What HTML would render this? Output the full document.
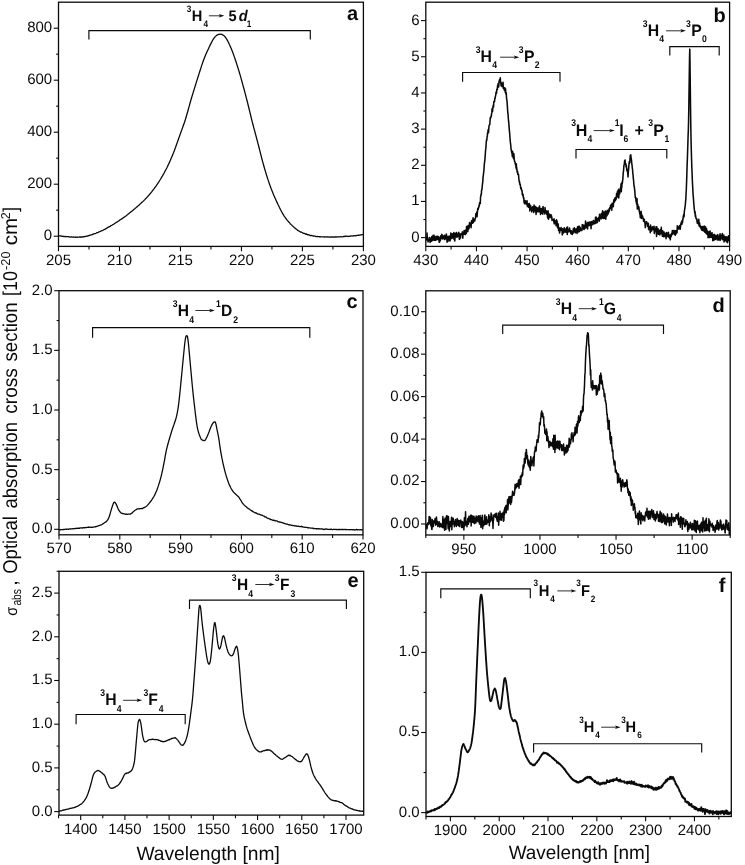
<!DOCTYPE html>
<html lang="en">
<head>
<meta charset="utf-8">
<title>Optical absorption cross section spectra</title>
<style>
html,body{margin:0;padding:0;background:#fff;}
body{width:745px;height:865px;overflow:hidden;font-family:"Liberation Sans", sans-serif;}
svg text{font-family:"Liberation Sans", sans-serif;text-rendering:geometricPrecision;}
</style>
</head>
<body>
<svg width="745" height="865" viewBox="0 0 745 865" font-family='"Liberation Sans", sans-serif' fill="#0a0a0a" style="display:block;will-change:transform">
<rect x="0" y="0" width="745" height="865" fill="#fff"/>
<g id="panel-a">
<clipPath id="clip-a"><rect x="58.5" y="2.2" width="304.9" height="244.2"/></clipPath>
<path clip-path="url(#clip-a)" d="M58.50,235.80 L59.00,235.92 L59.50,235.90 L60.00,235.87 L60.50,235.99 L61.00,235.98 L61.50,236.19 L62.00,236.44 L62.50,236.22 L63.00,236.26 L63.50,236.48 L64.00,236.51 L64.50,236.53 L65.00,236.43 L65.50,236.61 L66.00,236.77 L66.50,236.51 L67.00,236.69 L67.50,236.52 L68.00,236.66 L68.50,236.62 L69.00,236.90 L69.50,236.79 L70.00,237.07 L70.50,237.09 L71.00,237.07 L71.50,236.75 L72.00,237.07 L72.50,237.16 L73.00,237.20 L73.50,236.96 L74.00,237.13 L74.50,237.06 L75.00,237.08 L75.50,237.36 L76.00,237.07 L76.50,237.18 L77.00,237.30 L77.50,237.07 L78.00,237.12 L78.50,237.14 L79.00,237.11 L79.50,236.89 L80.00,237.06 L80.50,237.23 L81.00,236.76 L81.50,237.09 L82.00,236.94 L82.50,236.77 L83.00,237.11 L83.50,236.86 L84.00,236.50 L84.50,236.61 L85.00,236.60 L85.50,236.39 L86.00,236.42 L86.50,236.20 L87.00,236.19 L87.50,236.18 L88.00,235.75 L88.50,235.74 L89.00,235.51 L89.50,235.45 L90.00,235.11 L90.50,235.04 L91.00,234.94 L91.50,234.93 L92.00,234.80 L92.50,234.28 L93.00,234.18 L93.50,234.20 L94.00,233.66 L94.50,233.68 L95.00,233.54 L95.50,233.53 L96.00,233.26 L96.50,232.92 L97.00,232.72 L97.50,232.54 L98.00,232.57 L98.50,232.10 L99.00,231.91 L99.50,231.79 L100.00,231.51 L100.50,231.29 L101.00,230.94 L101.50,230.86 L102.00,230.58 L102.50,230.55 L103.00,230.25 L103.50,229.91 L104.00,229.75 L104.50,229.37 L105.00,229.29 L105.50,228.89 L106.00,228.69 L106.50,228.18 L107.00,228.11 L107.50,227.58 L108.00,227.25 L108.50,227.18 L109.00,226.82 L109.50,226.66 L110.00,226.61 L110.50,225.94 L111.00,225.67 L111.50,225.47 L112.00,225.20 L112.50,224.81 L113.00,224.50 L113.50,224.30 L114.00,223.96 L114.50,223.47 L115.00,223.26 L115.50,222.96 L116.00,222.52 L116.50,222.35 L117.00,221.90 L117.50,221.79 L118.00,221.38 L118.50,221.04 L119.00,220.64 L119.50,220.36 L120.00,219.82 L120.50,219.58 L121.00,219.41 L121.50,218.79 L122.00,218.79 L122.50,218.15 L123.00,218.08 L123.50,217.55 L124.00,217.37 L124.50,216.94 L125.00,216.40 L125.50,216.33 L126.00,215.97 L126.50,215.43 L127.00,215.03 L127.50,214.65 L128.00,214.17 L128.50,213.99 L129.00,213.42 L129.50,213.07 L130.00,212.59 L130.50,212.20 L131.00,211.73 L131.50,211.58 L132.00,211.02 L132.50,210.72 L133.00,210.21 L133.50,209.73 L134.00,209.35 L134.50,208.91 L135.00,208.55 L135.50,208.09 L136.00,207.67 L136.50,207.13 L137.00,206.75 L137.50,206.55 L138.00,205.89 L138.50,205.40 L139.00,205.09 L139.50,204.74 L140.00,204.01 L140.50,203.67 L141.00,203.17 L141.50,202.60 L142.00,202.37 L142.50,201.83 L143.00,201.37 L143.50,200.82 L144.00,200.45 L144.50,199.87 L145.00,199.41 L145.50,198.81 L146.00,198.28 L146.50,197.96 L147.00,197.26 L147.50,196.77 L148.00,196.17 L148.50,195.57 L149.00,194.98 L149.50,194.48 L150.00,193.81 L150.50,193.21 L151.00,192.61 L151.50,192.08 L152.00,191.42 L152.50,190.77 L153.00,190.07 L153.50,189.38 L154.00,188.89 L154.50,188.22 L155.00,187.47 L155.50,186.81 L156.00,186.12 L156.50,185.39 L157.00,184.66 L157.50,183.83 L158.00,183.18 L158.50,182.25 L159.00,181.59 L159.50,180.78 L160.00,180.00 L160.50,179.24 L161.00,178.40 L161.50,177.44 L162.00,176.58 L162.50,175.86 L163.00,174.91 L163.50,174.08 L164.00,173.23 L164.50,172.21 L165.00,171.27 L165.50,170.43 L166.00,169.46 L166.50,168.47 L167.00,167.49 L167.50,166.44 L168.00,165.38 L168.50,164.37 L169.00,163.27 L169.50,162.14 L170.00,161.10 L170.50,159.95 L171.00,158.81 L171.50,157.60 L172.00,156.42 L172.50,155.21 L173.00,153.98 L173.50,152.76 L174.00,151.45 L174.50,150.18 L175.00,148.85 L175.50,147.53 L176.00,146.07 L176.50,144.72 L177.00,143.28 L177.50,141.87 L178.00,140.42 L178.50,139.03 L179.00,137.64 L179.50,136.21 L180.00,134.80 L180.50,133.40 L181.00,132.05 L181.50,130.64 L182.00,129.21 L182.50,127.87 L183.00,126.45 L183.50,125.02 L184.00,123.66 L184.50,122.25 L185.00,120.70 L185.50,119.09 L186.00,117.45 L186.50,115.79 L187.00,114.05 L187.50,112.28 L188.00,110.50 L188.50,108.70 L189.00,106.90 L189.50,105.09 L190.00,103.29 L190.50,101.49 L191.00,99.76 L191.50,98.02 L192.00,96.38 L192.50,94.70 L193.00,93.09 L193.50,91.47 L194.00,89.83 L194.50,88.26 L195.00,86.65 L195.50,85.00 L196.00,83.42 L196.50,81.81 L197.00,80.16 L197.50,78.62 L198.00,77.02 L198.50,75.44 L199.00,73.83 L199.50,72.27 L200.00,70.71 L200.50,69.19 L201.00,67.64 L201.50,66.11 L202.00,64.65 L202.50,63.14 L203.00,61.70 L203.50,60.26 L204.00,58.98 L204.50,57.67 L205.00,56.43 L205.50,55.23 L206.00,54.06 L206.50,52.94 L207.00,51.82 L207.50,50.73 L208.00,49.66 L208.50,48.62 L209.00,47.50 L209.50,46.42 L210.00,45.36 L210.50,44.33 L211.00,43.43 L211.50,42.41 L212.00,41.45 L212.50,40.51 L213.00,39.59 L213.50,38.80 L214.00,38.13 L214.50,37.40 L215.00,36.84 L215.50,36.34 L216.00,35.93 L216.50,35.35 L217.00,35.15 L217.50,34.78 L218.00,34.78 L218.50,34.37 L219.00,34.42 L219.50,34.47 L220.00,34.15 L220.50,34.09 L221.00,34.25 L221.50,34.31 L222.00,34.33 L222.50,34.74 L223.00,35.19 L223.50,35.27 L224.00,35.69 L224.50,36.12 L225.00,36.79 L225.50,37.32 L226.00,38.03 L226.50,38.93 L227.00,39.64 L227.50,40.61 L228.00,41.57 L228.50,42.51 L229.00,43.57 L229.50,44.71 L230.00,45.76 L230.50,46.89 L231.00,48.05 L231.50,49.29 L232.00,50.57 L232.50,51.84 L233.00,53.11 L233.50,54.48 L234.00,55.90 L234.50,57.37 L235.00,58.82 L235.50,60.31 L236.00,61.81 L236.50,63.32 L237.00,64.86 L237.50,66.43 L238.00,68.01 L238.50,69.64 L239.00,71.30 L239.50,72.96 L240.00,74.66 L240.50,76.37 L241.00,78.17 L241.50,79.92 L242.00,81.72 L242.50,83.56 L243.00,85.38 L243.50,87.21 L244.00,89.03 L244.50,90.92 L245.00,92.80 L245.50,94.71 L246.00,96.65 L246.50,98.55 L247.00,100.49 L247.50,102.46 L248.00,104.48 L248.50,106.50 L249.00,108.53 L249.50,110.59 L250.00,112.63 L250.50,114.71 L251.00,116.76 L251.50,118.79 L252.00,120.79 L252.50,122.80 L253.00,124.75 L253.50,126.68 L254.00,128.57 L254.50,130.43 L255.00,132.29 L255.50,134.17 L256.00,136.00 L256.50,137.87 L257.00,139.76 L257.50,141.62 L258.00,143.56 L258.50,145.52 L259.00,147.49 L259.50,149.45 L260.00,151.44 L260.50,153.40 L261.00,155.34 L261.50,157.29 L262.00,159.23 L262.50,161.12 L263.00,162.93 L263.50,164.79 L264.00,166.55 L264.50,168.31 L265.00,169.99 L265.50,171.66 L266.00,173.30 L266.50,174.98 L267.00,176.53 L267.50,178.13 L268.00,179.63 L268.50,181.16 L269.00,182.60 L269.50,184.07 L270.00,185.51 L270.50,186.84 L271.00,188.25 L271.50,189.54 L272.00,190.79 L272.50,192.05 L273.00,193.27 L273.50,194.48 L274.00,195.64 L274.50,196.79 L275.00,197.95 L275.50,199.06 L276.00,200.16 L276.50,201.30 L277.00,202.41 L277.50,203.39 L278.00,204.49 L278.50,205.50 L279.00,206.52 L279.50,207.60 L280.00,208.55 L280.50,209.62 L281.00,210.49 L281.50,211.48 L282.00,212.37 L282.50,213.24 L283.00,214.16 L283.50,214.96 L284.00,215.80 L284.50,216.53 L285.00,217.21 L285.50,217.98 L286.00,218.68 L286.50,219.41 L287.00,219.92 L287.50,220.60 L288.00,221.07 L288.50,221.83 L289.00,222.25 L289.50,222.73 L290.00,223.41 L290.50,224.04 L291.00,224.33 L291.50,224.88 L292.00,225.40 L292.50,225.84 L293.00,226.45 L293.50,226.79 L294.00,227.23 L294.50,227.78 L295.00,228.07 L295.50,228.60 L296.00,228.85 L296.50,229.22 L297.00,229.52 L297.50,230.29 L298.00,230.39 L298.50,230.79 L299.00,231.06 L299.50,231.38 L300.00,231.64 L300.50,232.14 L301.00,232.01 L301.50,232.19 L302.00,232.49 L302.50,232.67 L303.00,233.15 L303.50,233.37 L304.00,233.32 L304.50,233.44 L305.00,233.75 L305.50,234.17 L306.00,233.75 L306.50,234.38 L307.00,234.32 L307.50,234.77 L308.00,234.63 L308.50,234.88 L309.00,234.85 L309.50,235.05 L310.00,235.52 L310.50,235.55 L311.00,235.48 L311.50,235.51 L312.00,235.46 L312.50,235.77 L313.00,235.91 L313.50,235.99 L314.00,236.07 L314.50,236.00 L315.00,236.23 L315.50,236.30 L316.00,236.57 L316.50,236.72 L317.00,236.49 L317.50,236.45 L318.00,236.61 L318.50,236.58 L319.00,236.61 L319.50,236.75 L320.00,236.64 L320.50,236.92 L321.00,236.84 L321.50,236.92 L322.00,236.88 L322.50,236.81 L323.00,236.80 L323.50,236.92 L324.00,236.89 L324.50,237.02 L325.00,237.00 L325.50,236.81 L326.00,237.03 L326.50,236.83 L327.00,236.95 L327.50,237.01 L328.00,236.75 L328.50,237.08 L329.00,237.09 L329.50,237.05 L330.00,237.01 L330.50,237.02 L331.00,236.93 L331.50,237.03 L332.00,236.99 L332.50,237.08 L333.00,236.88 L333.50,237.08 L334.00,237.06 L334.50,237.01 L335.00,236.95 L335.50,237.08 L336.00,236.73 L336.50,237.03 L337.00,236.98 L337.50,236.96 L338.00,236.95 L338.50,236.77 L339.00,236.80 L339.50,236.91 L340.00,236.86 L340.50,236.79 L341.00,236.51 L341.50,236.79 L342.00,236.86 L342.50,236.80 L343.00,236.66 L343.50,236.36 L344.00,236.70 L344.50,236.51 L345.00,236.12 L345.50,236.52 L346.00,236.21 L346.50,236.20 L347.00,236.27 L347.50,236.52 L348.00,236.24 L348.50,236.29 L349.00,236.48 L349.50,236.41 L350.00,236.12 L350.50,236.06 L351.00,235.87 L351.50,235.91 L352.00,236.03 L352.50,235.98 L353.00,235.89 L353.50,235.98 L354.00,235.67 L354.50,235.72 L355.00,235.79 L355.50,235.72 L356.00,235.74 L356.50,235.59 L357.00,235.43 L357.50,235.47 L358.00,235.22 L358.50,235.07 L359.00,235.34 L359.50,235.19 L360.00,235.18 L360.50,234.82 L361.00,234.96 L361.50,234.86 L362.00,234.76 L362.50,234.49 L363.00,234.70" fill="none" stroke="#0a0a0a" stroke-width="1.3" stroke-linejoin="round"/>
<rect x="58.5" y="2.2" width="304.9" height="244.2" fill="none" stroke="#0a0a0a" stroke-width="1.3"/>
<line x1="58.5" y1="246.4" x2="58.5" y2="251.2" stroke="#0a0a0a" stroke-width="1.1"/>
<text x="58.5" y="264.9" font-size="15.0" text-anchor="middle" font-weight="normal" font-style="normal" >205</text>
<line x1="119.48" y1="246.4" x2="119.48" y2="251.2" stroke="#0a0a0a" stroke-width="1.1"/>
<text x="119.48" y="264.9" font-size="15.0" text-anchor="middle" font-weight="normal" font-style="normal" >210</text>
<line x1="180.46" y1="246.4" x2="180.46" y2="251.2" stroke="#0a0a0a" stroke-width="1.1"/>
<text x="180.46" y="264.9" font-size="15.0" text-anchor="middle" font-weight="normal" font-style="normal" >215</text>
<line x1="241.44" y1="246.4" x2="241.44" y2="251.2" stroke="#0a0a0a" stroke-width="1.1"/>
<text x="241.44" y="264.9" font-size="15.0" text-anchor="middle" font-weight="normal" font-style="normal" >220</text>
<line x1="302.42" y1="246.4" x2="302.42" y2="251.2" stroke="#0a0a0a" stroke-width="1.1"/>
<text x="302.42" y="264.9" font-size="15.0" text-anchor="middle" font-weight="normal" font-style="normal" >225</text>
<line x1="363.4" y1="246.4" x2="363.4" y2="251.2" stroke="#0a0a0a" stroke-width="1.1"/>
<text x="363.4" y="264.9" font-size="15.0" text-anchor="middle" font-weight="normal" font-style="normal" >230</text>
<line x1="88.99" y1="246.4" x2="88.99" y2="249.5" stroke="#0a0a0a" stroke-width="1.1"/>
<line x1="149.97" y1="246.4" x2="149.97" y2="249.5" stroke="#0a0a0a" stroke-width="1.1"/>
<line x1="210.95" y1="246.4" x2="210.95" y2="249.5" stroke="#0a0a0a" stroke-width="1.1"/>
<line x1="271.93" y1="246.4" x2="271.93" y2="249.5" stroke="#0a0a0a" stroke-width="1.1"/>
<line x1="332.91" y1="246.4" x2="332.91" y2="249.5" stroke="#0a0a0a" stroke-width="1.1"/>
<line x1="53.7" y1="236.2" x2="58.5" y2="236.2" stroke="#0a0a0a" stroke-width="1.1"/>
<text x="52.2" y="240.1" font-size="15.0" text-anchor="end" font-weight="normal" font-style="normal" >0</text>
<line x1="53.7" y1="184.2" x2="58.5" y2="184.2" stroke="#0a0a0a" stroke-width="1.1"/>
<text x="52.2" y="188.1" font-size="15.0" text-anchor="end" font-weight="normal" font-style="normal" >200</text>
<line x1="53.7" y1="132.2" x2="58.5" y2="132.2" stroke="#0a0a0a" stroke-width="1.1"/>
<text x="52.2" y="136.1" font-size="15.0" text-anchor="end" font-weight="normal" font-style="normal" >400</text>
<line x1="53.7" y1="80.2" x2="58.5" y2="80.2" stroke="#0a0a0a" stroke-width="1.1"/>
<text x="52.2" y="84.1" font-size="15.0" text-anchor="end" font-weight="normal" font-style="normal" >600</text>
<line x1="53.7" y1="28.2" x2="58.5" y2="28.2" stroke="#0a0a0a" stroke-width="1.1"/>
<text x="52.2" y="32.1" font-size="15.0" text-anchor="end" font-weight="normal" font-style="normal" >800</text>
<line x1="56.1" y1="210.2" x2="58.5" y2="210.2" stroke="#0a0a0a" stroke-width="1.1"/>
<line x1="56.1" y1="158.2" x2="58.5" y2="158.2" stroke="#0a0a0a" stroke-width="1.1"/>
<line x1="56.1" y1="106.2" x2="58.5" y2="106.2" stroke="#0a0a0a" stroke-width="1.1"/>
<line x1="56.1" y1="54.2" x2="58.5" y2="54.2" stroke="#0a0a0a" stroke-width="1.1"/>
</g>
<g id="panel-b">
<clipPath id="clip-b"><rect x="425.8" y="2.2" width="303.8" height="244.2"/></clipPath>
<path clip-path="url(#clip-b)" d="M425.80,240.39 L426.05,239.36 L426.30,237.39 L426.55,238.55 L426.80,240.09 L427.05,233.05 L427.30,238.31 L427.55,239.64 L427.80,239.91 L428.05,241.94 L428.30,240.80 L428.55,239.15 L428.80,239.12 L429.05,240.08 L429.30,237.42 L429.55,238.40 L429.80,240.29 L430.05,242.38 L430.30,238.13 L430.55,238.35 L430.80,238.83 L431.05,241.11 L431.30,238.35 L431.55,241.33 L431.80,236.45 L432.05,238.00 L432.30,237.96 L432.55,239.92 L432.80,240.42 L433.05,235.30 L433.30,236.47 L433.55,238.96 L433.80,236.96 L434.05,235.21 L434.30,240.32 L434.55,239.22 L434.80,239.20 L435.05,237.25 L435.30,240.24 L435.55,237.68 L435.80,240.34 L436.05,236.30 L436.30,236.40 L436.55,238.50 L436.80,236.66 L437.05,239.40 L437.30,238.55 L437.55,236.16 L437.80,238.13 L438.05,237.26 L438.30,239.77 L438.55,236.65 L438.80,237.01 L439.05,240.29 L439.30,242.32 L439.55,241.81 L439.80,237.92 L440.05,238.20 L440.30,240.81 L440.55,237.47 L440.80,235.74 L441.05,237.90 L441.30,238.55 L441.55,235.96 L441.80,234.30 L442.05,234.70 L442.30,238.87 L442.55,236.00 L442.80,237.21 L443.05,237.90 L443.30,238.69 L443.55,236.76 L443.80,238.40 L444.05,235.60 L444.30,236.64 L444.55,235.29 L444.80,239.58 L445.05,237.24 L445.30,235.80 L445.55,236.56 L445.80,236.80 L446.05,238.63 L446.30,234.03 L446.55,235.14 L446.80,236.45 L447.05,242.26 L447.30,239.10 L447.55,236.96 L447.80,238.61 L448.05,241.29 L448.30,236.71 L448.55,236.44 L448.80,239.60 L449.05,238.16 L449.30,238.51 L449.55,236.15 L449.80,241.02 L450.05,240.59 L450.30,238.30 L450.55,238.54 L450.80,233.11 L451.05,238.44 L451.30,236.77 L451.55,238.02 L451.80,238.51 L452.05,236.46 L452.30,233.75 L452.55,237.86 L452.80,235.63 L453.05,236.44 L453.30,235.88 L453.55,236.39 L453.80,232.43 L454.05,239.45 L454.30,237.49 L454.55,239.17 L454.80,240.87 L455.05,236.91 L455.30,233.21 L455.55,234.97 L455.80,234.29 L456.05,235.64 L456.30,236.74 L456.55,232.51 L456.80,237.12 L457.05,233.35 L457.30,236.88 L457.55,235.98 L457.80,235.49 L458.05,235.88 L458.30,234.86 L458.55,234.62 L458.80,232.38 L459.05,235.58 L459.30,239.22 L459.55,239.38 L459.80,237.95 L460.05,236.61 L460.30,233.74 L460.55,237.85 L460.80,234.74 L461.05,234.59 L461.30,234.02 L461.55,234.64 L461.80,233.45 L462.05,234.00 L462.30,231.85 L462.55,233.09 L462.80,238.19 L463.05,233.34 L463.30,232.81 L463.55,234.14 L463.80,234.29 L464.05,230.47 L464.30,232.05 L464.55,234.05 L464.80,232.54 L465.05,232.02 L465.30,234.60 L465.55,229.95 L465.80,231.20 L466.05,229.76 L466.30,233.45 L466.55,226.42 L466.80,228.67 L467.05,228.68 L467.30,230.74 L467.55,230.35 L467.80,231.60 L468.05,225.49 L468.30,229.74 L468.55,227.39 L468.80,226.35 L469.05,228.37 L469.30,225.20 L469.55,222.62 L469.80,225.60 L470.05,223.06 L470.30,224.37 L470.55,226.00 L470.80,225.53 L471.05,227.64 L471.30,223.81 L471.55,220.87 L471.80,222.01 L472.05,221.33 L472.30,220.39 L472.55,223.22 L472.80,220.75 L473.05,217.80 L473.30,222.55 L473.55,220.58 L473.80,221.06 L474.05,220.14 L474.30,220.70 L474.55,219.11 L474.80,220.92 L475.05,218.91 L475.30,218.36 L475.55,217.90 L475.80,213.88 L476.05,215.81 L476.30,215.12 L476.55,215.45 L476.80,211.99 L477.05,216.65 L477.30,213.16 L477.55,210.08 L477.80,208.38 L478.05,209.85 L478.30,209.19 L478.55,207.16 L478.80,207.45 L479.05,205.22 L479.30,205.92 L479.55,202.78 L479.80,202.52 L480.05,202.64 L480.30,203.45 L480.55,197.00 L480.80,196.26 L481.05,194.23 L481.30,194.79 L481.55,190.65 L481.80,189.81 L482.05,188.54 L482.30,185.49 L482.55,183.41 L482.80,181.55 L483.05,177.41 L483.30,175.37 L483.55,173.62 L483.80,171.38 L484.05,168.28 L484.30,164.01 L484.55,162.41 L484.80,160.70 L485.05,157.57 L485.30,154.07 L485.55,150.42 L485.80,148.92 L486.05,145.00 L486.30,141.75 L486.55,139.72 L486.80,140.21 L487.05,136.96 L487.30,136.61 L487.55,132.92 L487.80,133.67 L488.05,130.13 L488.30,129.59 L488.55,132.45 L488.80,128.65 L489.05,125.54 L489.30,125.01 L489.55,124.44 L489.80,124.53 L490.05,120.74 L490.30,117.63 L490.55,118.37 L490.80,117.38 L491.05,116.08 L491.30,116.36 L491.55,113.55 L491.80,112.91 L492.05,108.80 L492.30,110.54 L492.55,111.39 L492.80,108.26 L493.05,106.41 L493.30,105.25 L493.55,106.96 L493.80,101.52 L494.05,101.90 L494.30,101.87 L494.55,101.34 L494.80,98.41 L495.05,98.57 L495.30,96.58 L495.55,96.17 L495.80,94.72 L496.05,92.05 L496.30,92.79 L496.55,93.18 L496.80,89.17 L497.05,89.28 L497.30,89.68 L497.55,85.86 L497.80,86.78 L498.05,83.73 L498.30,86.15 L498.55,87.02 L498.80,85.60 L499.05,80.96 L499.30,81.71 L499.55,79.87 L499.80,79.38 L500.05,82.33 L500.30,77.82 L500.55,82.77 L500.80,82.13 L501.05,85.62 L501.30,84.36 L501.55,83.11 L501.80,85.30 L502.05,86.52 L502.30,85.48 L502.55,86.68 L502.80,85.03 L503.05,82.21 L503.30,88.45 L503.55,88.40 L503.80,87.69 L504.05,87.92 L504.30,90.19 L504.55,87.81 L504.80,87.86 L505.05,89.39 L505.30,92.51 L505.55,88.67 L505.80,93.88 L506.05,92.52 L506.30,93.76 L506.55,98.49 L506.80,99.53 L507.05,101.34 L507.30,105.20 L507.55,109.35 L507.80,112.60 L508.05,114.19 L508.30,117.94 L508.55,121.22 L508.80,123.05 L509.05,126.94 L509.30,129.62 L509.55,132.19 L509.80,135.24 L510.05,138.75 L510.30,141.69 L510.55,143.61 L510.80,145.76 L511.05,149.46 L511.30,149.58 L511.55,151.77 L511.80,153.23 L512.05,152.82 L512.30,156.54 L512.55,151.25 L512.80,154.83 L513.05,153.39 L513.30,157.89 L513.55,158.47 L513.80,153.64 L514.05,156.26 L514.30,159.93 L514.55,161.18 L514.80,162.14 L515.05,161.89 L515.30,163.79 L515.55,165.15 L515.80,165.04 L516.05,167.86 L516.30,163.68 L516.55,169.36 L516.80,167.79 L517.05,172.03 L517.30,171.26 L517.55,171.33 L517.80,174.42 L518.05,173.53 L518.30,174.65 L518.55,174.74 L518.80,178.27 L519.05,180.21 L519.30,182.15 L519.55,181.44 L519.80,184.41 L520.05,183.88 L520.30,184.78 L520.55,186.91 L520.80,188.74 L521.05,187.51 L521.30,188.68 L521.55,189.82 L521.80,191.20 L522.05,190.56 L522.30,194.70 L522.55,193.29 L522.80,195.66 L523.05,194.43 L523.30,197.33 L523.55,198.25 L523.80,197.65 L524.05,202.73 L524.30,200.53 L524.55,203.77 L524.80,202.93 L525.05,200.53 L525.30,201.59 L525.55,203.64 L525.80,203.40 L526.05,203.80 L526.30,203.55 L526.55,200.96 L526.80,204.39 L527.05,200.85 L527.30,206.23 L527.55,204.40 L527.80,204.72 L528.05,205.98 L528.30,207.22 L528.55,204.11 L528.80,203.71 L529.05,205.26 L529.30,203.51 L529.55,205.81 L529.80,211.04 L530.05,205.88 L530.30,209.37 L530.55,205.40 L530.80,208.80 L531.05,207.62 L531.30,208.21 L531.55,209.53 L531.80,211.96 L532.05,208.90 L532.30,208.83 L532.55,206.70 L532.80,209.87 L533.05,208.27 L533.30,210.49 L533.55,208.80 L533.80,212.43 L534.05,205.05 L534.30,208.49 L534.55,210.90 L534.80,208.50 L535.05,207.68 L535.30,208.80 L535.55,206.63 L535.80,209.69 L536.05,214.39 L536.30,211.86 L536.55,207.42 L536.80,207.95 L537.05,208.95 L537.30,211.83 L537.55,208.24 L537.80,208.57 L538.05,211.78 L538.30,211.80 L538.55,209.38 L538.80,207.96 L539.05,207.16 L539.30,208.92 L539.55,205.92 L539.80,211.94 L540.05,209.24 L540.30,211.52 L540.55,214.36 L540.80,213.03 L541.05,208.44 L541.30,212.54 L541.55,213.18 L541.80,209.44 L542.05,209.09 L542.30,210.83 L542.55,207.91 L542.80,214.11 L543.05,206.43 L543.30,209.09 L543.55,210.83 L543.80,210.98 L544.05,211.84 L544.30,212.13 L544.55,211.25 L544.80,214.04 L545.05,207.60 L545.30,211.98 L545.55,210.67 L545.80,212.48 L546.05,212.78 L546.30,210.67 L546.55,211.36 L546.80,214.36 L547.05,213.65 L547.30,211.78 L547.55,217.36 L547.80,218.09 L548.05,210.83 L548.30,214.54 L548.55,219.13 L548.80,215.96 L549.05,215.11 L549.30,214.53 L549.55,214.16 L549.80,215.10 L550.05,214.74 L550.30,217.58 L550.55,215.65 L550.80,215.87 L551.05,214.70 L551.30,217.27 L551.55,215.93 L551.80,217.65 L552.05,220.35 L552.30,219.35 L552.55,219.95 L552.80,219.98 L553.05,219.73 L553.30,219.69 L553.55,219.66 L553.80,222.07 L554.05,218.80 L554.30,223.85 L554.55,221.63 L554.80,220.43 L555.05,221.27 L555.30,221.24 L555.55,223.21 L555.80,221.84 L556.05,225.80 L556.30,222.40 L556.55,219.84 L556.80,223.18 L557.05,221.04 L557.30,225.21 L557.55,227.69 L557.80,227.23 L558.05,223.70 L558.30,225.15 L558.55,230.44 L558.80,227.92 L559.05,227.62 L559.30,229.99 L559.55,233.04 L559.80,231.08 L560.05,229.09 L560.30,229.76 L560.55,230.51 L560.80,228.29 L561.05,227.60 L561.30,229.98 L561.55,228.15 L561.80,230.05 L562.05,230.49 L562.30,235.08 L562.55,228.81 L562.80,230.36 L563.05,230.35 L563.30,231.62 L563.55,232.90 L563.80,229.88 L564.05,229.26 L564.30,227.67 L564.55,229.13 L564.80,232.09 L565.05,231.14 L565.30,229.04 L565.55,230.36 L565.80,231.20 L566.05,232.17 L566.30,230.01 L566.55,230.74 L566.80,227.64 L567.05,229.01 L567.30,234.59 L567.55,227.02 L567.80,230.76 L568.05,231.91 L568.30,230.77 L568.55,229.94 L568.80,231.47 L569.05,231.61 L569.30,231.49 L569.55,227.93 L569.80,231.42 L570.05,230.02 L570.30,230.65 L570.55,232.22 L570.80,233.06 L571.05,233.57 L571.30,230.78 L571.55,233.62 L571.80,234.10 L572.05,234.01 L572.30,234.49 L572.55,231.38 L572.80,231.29 L573.05,233.23 L573.30,228.80 L573.55,231.88 L573.80,230.32 L574.05,230.56 L574.30,227.73 L574.55,229.32 L574.80,230.95 L575.05,232.66 L575.30,232.76 L575.55,230.52 L575.80,230.20 L576.05,228.81 L576.30,231.16 L576.55,229.76 L576.80,231.35 L577.05,233.53 L577.30,229.86 L577.55,226.83 L577.80,227.98 L578.05,226.68 L578.30,227.09 L578.55,231.96 L578.80,229.69 L579.05,226.09 L579.30,230.31 L579.55,231.40 L579.80,228.05 L580.05,227.31 L580.30,227.86 L580.55,228.98 L580.80,229.57 L581.05,230.52 L581.30,230.46 L581.55,230.29 L581.80,230.51 L582.05,228.99 L582.30,224.50 L582.55,227.16 L582.80,227.93 L583.05,226.41 L583.30,228.87 L583.55,226.21 L583.80,224.97 L584.05,229.57 L584.30,227.90 L584.55,226.88 L584.80,228.17 L585.05,228.32 L585.30,226.76 L585.55,221.07 L585.80,224.50 L586.05,224.81 L586.30,223.64 L586.55,225.87 L586.80,227.73 L587.05,224.26 L587.30,222.84 L587.55,229.01 L587.80,223.94 L588.05,222.26 L588.30,225.05 L588.55,225.30 L588.80,222.91 L589.05,225.75 L589.30,223.07 L589.55,222.06 L589.80,224.11 L590.05,225.14 L590.30,222.20 L590.55,223.97 L590.80,222.97 L591.05,228.63 L591.30,221.45 L591.55,225.46 L591.80,222.45 L592.05,222.15 L592.30,223.68 L592.55,223.87 L592.80,224.46 L593.05,222.44 L593.30,220.44 L593.55,220.41 L593.80,222.34 L594.05,222.33 L594.30,223.80 L594.55,221.69 L594.80,222.81 L595.05,223.57 L595.30,220.72 L595.55,217.29 L595.80,217.74 L596.05,217.07 L596.30,222.94 L596.55,217.93 L596.80,221.91 L597.05,220.47 L597.30,222.56 L597.55,220.99 L597.80,218.64 L598.05,218.29 L598.30,218.70 L598.55,218.72 L598.80,217.16 L599.05,217.99 L599.30,221.10 L599.55,214.36 L599.80,218.10 L600.05,215.63 L600.30,217.65 L600.55,218.79 L600.80,216.85 L601.05,218.34 L601.30,213.49 L601.55,218.70 L601.80,215.14 L602.05,217.42 L602.30,216.39 L602.55,210.73 L602.80,214.21 L603.05,215.99 L603.30,218.49 L603.55,215.81 L603.80,215.60 L604.05,212.12 L604.30,217.62 L604.55,218.21 L604.80,214.52 L605.05,213.87 L605.30,210.93 L605.55,215.74 L605.80,219.20 L606.05,215.09 L606.30,216.01 L606.55,214.41 L606.80,211.21 L607.05,215.66 L607.30,210.38 L607.55,212.24 L607.80,213.04 L608.05,214.06 L608.30,212.95 L608.55,212.67 L608.80,210.15 L609.05,208.82 L609.30,211.12 L609.55,209.26 L609.80,207.72 L610.05,207.39 L610.30,208.44 L610.55,205.40 L610.80,205.89 L611.05,204.87 L611.30,207.81 L611.55,207.75 L611.80,210.28 L612.05,203.16 L612.30,204.22 L612.55,206.74 L612.80,204.12 L613.05,203.41 L613.30,206.75 L613.55,202.39 L613.80,200.34 L614.05,199.53 L614.30,202.14 L614.55,201.57 L614.80,197.91 L615.05,198.13 L615.30,200.49 L615.55,200.07 L615.80,197.27 L616.05,199.17 L616.30,198.59 L616.55,193.64 L616.80,195.98 L617.05,196.91 L617.30,194.58 L617.55,191.15 L617.80,194.26 L618.05,195.82 L618.30,196.97 L618.55,189.32 L618.80,198.07 L619.05,190.48 L619.30,194.01 L619.55,194.07 L619.80,193.10 L620.05,191.01 L620.30,188.02 L620.55,190.67 L620.80,187.56 L621.05,183.71 L621.30,191.69 L621.55,187.11 L621.80,187.43 L622.05,182.14 L622.30,183.35 L622.55,181.46 L622.80,179.33 L623.05,175.48 L623.30,172.10 L623.55,171.03 L623.80,166.61 L624.05,164.89 L624.30,164.70 L624.55,161.33 L624.80,160.57 L625.05,159.98 L625.30,164.14 L625.55,164.31 L625.80,163.70 L626.05,166.86 L626.30,165.34 L626.55,167.34 L626.80,170.52 L627.05,168.96 L627.30,171.68 L627.55,171.24 L627.80,174.52 L628.05,176.97 L628.30,171.72 L628.55,170.31 L628.80,166.47 L629.05,163.69 L629.30,161.65 L629.55,163.15 L629.80,162.56 L630.05,158.53 L630.30,155.32 L630.55,156.58 L630.80,154.75 L631.05,157.60 L631.30,158.73 L631.55,161.01 L631.80,163.79 L632.05,165.21 L632.30,168.03 L632.55,169.44 L632.80,173.27 L633.05,174.79 L633.30,178.48 L633.55,180.06 L633.80,183.52 L634.05,186.20 L634.30,186.38 L634.55,189.09 L634.80,190.81 L635.05,194.67 L635.30,197.62 L635.55,198.02 L635.80,197.68 L636.05,201.67 L636.30,198.23 L636.55,204.09 L636.80,201.57 L637.05,198.88 L637.30,208.97 L637.55,208.00 L637.80,204.35 L638.05,207.25 L638.30,207.39 L638.55,208.73 L638.80,206.69 L639.05,208.84 L639.30,211.61 L639.55,211.85 L639.80,214.29 L640.05,212.86 L640.30,217.66 L640.55,212.48 L640.80,214.84 L641.05,211.30 L641.30,213.08 L641.55,218.44 L641.80,214.70 L642.05,217.99 L642.30,217.38 L642.55,216.01 L642.80,217.81 L643.05,217.96 L643.30,218.47 L643.55,221.28 L643.80,221.52 L644.05,219.56 L644.30,219.31 L644.55,221.98 L644.80,221.58 L645.05,224.11 L645.30,227.60 L645.55,224.34 L645.80,222.90 L646.05,222.91 L646.30,221.84 L646.55,222.02 L646.80,222.10 L647.05,223.56 L647.30,223.76 L647.55,226.32 L647.80,224.33 L648.05,224.97 L648.30,223.20 L648.55,229.09 L648.80,227.08 L649.05,229.84 L649.30,228.10 L649.55,229.68 L649.80,226.44 L650.05,228.55 L650.30,232.69 L650.55,225.07 L650.80,230.01 L651.05,231.21 L651.30,228.82 L651.55,229.65 L651.80,230.81 L652.05,227.04 L652.30,229.32 L652.55,226.83 L652.80,227.34 L653.05,227.57 L653.30,228.65 L653.55,229.36 L653.80,230.09 L654.05,226.39 L654.30,233.44 L654.55,231.87 L654.80,231.10 L655.05,229.00 L655.30,229.67 L655.55,231.08 L655.80,230.91 L656.05,226.76 L656.30,231.81 L656.55,236.37 L656.80,226.75 L657.05,232.67 L657.30,231.51 L657.55,230.63 L657.80,233.78 L658.05,228.67 L658.30,231.53 L658.55,234.31 L658.80,231.02 L659.05,230.68 L659.30,231.89 L659.55,230.85 L659.80,235.04 L660.05,230.13 L660.30,233.89 L660.55,229.65 L660.80,233.70 L661.05,232.22 L661.30,227.25 L661.55,232.65 L661.80,230.59 L662.05,231.97 L662.30,236.15 L662.55,230.82 L662.80,231.05 L663.05,236.29 L663.30,233.68 L663.55,236.72 L663.80,234.33 L664.05,231.97 L664.30,233.76 L664.55,236.52 L664.80,236.04 L665.05,234.23 L665.30,234.44 L665.55,234.22 L665.80,233.37 L666.05,238.63 L666.30,234.80 L666.55,232.57 L666.80,234.02 L667.05,236.60 L667.30,236.54 L667.55,235.05 L667.80,234.07 L668.05,235.58 L668.30,232.16 L668.55,232.97 L668.80,237.31 L669.05,234.69 L669.30,236.44 L669.55,238.14 L669.80,236.93 L670.05,235.58 L670.30,239.83 L670.55,236.75 L670.80,234.56 L671.05,236.69 L671.30,235.91 L671.55,233.20 L671.80,234.98 L672.05,234.36 L672.30,230.53 L672.55,234.07 L672.80,233.70 L673.05,233.24 L673.30,230.63 L673.55,233.13 L673.80,233.61 L674.05,233.72 L674.30,231.02 L674.55,234.42 L674.80,230.45 L675.05,232.24 L675.30,235.11 L675.55,230.82 L675.80,230.93 L676.05,233.88 L676.30,230.66 L676.55,230.57 L676.80,231.33 L677.05,232.71 L677.30,225.87 L677.55,228.35 L677.80,227.69 L678.05,227.23 L678.30,227.39 L678.55,227.12 L678.80,229.10 L679.05,226.40 L679.30,228.05 L679.55,228.20 L679.80,225.55 L680.05,226.78 L680.30,229.20 L680.55,226.14 L680.80,223.77 L681.05,224.32 L681.30,222.13 L681.55,223.80 L681.80,224.33 L682.05,220.56 L682.30,221.11 L682.55,222.78 L682.80,219.07 L683.05,219.18 L683.30,216.14 L683.55,215.23 L683.80,214.38 L684.05,216.85 L684.30,211.79 L684.55,210.21 L684.80,208.46 L685.05,206.77 L685.30,204.99 L685.55,201.57 L685.80,199.58 L686.05,194.07 L686.30,189.78 L686.55,182.90 L686.80,175.88 L687.05,167.26 L687.30,160.60 L687.55,153.20 L687.80,145.67 L688.05,137.14 L688.30,131.53 L688.55,122.01 L688.80,108.19 L689.05,90.32 L689.30,73.07 L689.55,56.85 L689.80,49.15 L690.05,66.50 L690.30,88.11 L690.55,108.92 L690.80,126.27 L691.05,140.15 L691.30,150.34 L691.55,158.76 L691.80,166.82 L692.05,172.07 L692.30,179.47 L692.55,184.40 L692.80,188.74 L693.05,194.37 L693.30,196.85 L693.55,199.93 L693.80,203.31 L694.05,206.82 L694.30,209.27 L694.55,210.99 L694.80,213.34 L695.05,211.43 L695.30,216.58 L695.55,214.92 L695.80,217.19 L696.05,218.59 L696.30,218.14 L696.55,218.34 L696.80,219.43 L697.05,221.65 L697.30,223.10 L697.55,223.31 L697.80,220.48 L698.05,221.11 L698.30,221.09 L698.55,224.04 L698.80,219.38 L699.05,226.09 L699.30,222.98 L699.55,222.71 L699.80,225.22 L700.05,226.90 L700.30,225.91 L700.55,227.64 L700.80,226.21 L701.05,228.69 L701.30,229.08 L701.55,226.84 L701.80,230.18 L702.05,228.06 L702.30,228.25 L702.55,226.62 L702.80,228.18 L703.05,230.58 L703.30,226.78 L703.55,230.91 L703.80,230.59 L704.05,230.70 L704.30,226.04 L704.55,230.42 L704.80,232.13 L705.05,229.55 L705.30,231.45 L705.55,226.77 L705.80,233.00 L706.05,230.55 L706.30,233.78 L706.55,228.58 L706.80,233.78 L707.05,232.11 L707.30,234.36 L707.55,231.08 L707.80,231.85 L708.05,237.69 L708.30,231.74 L708.55,232.14 L708.80,233.15 L709.05,231.82 L709.30,236.37 L709.55,237.58 L709.80,232.90 L710.05,231.02 L710.30,236.94 L710.55,236.96 L710.80,236.55 L711.05,237.37 L711.30,233.49 L711.55,235.03 L711.80,232.76 L712.05,232.84 L712.30,237.76 L712.55,234.61 L712.80,240.62 L713.05,236.37 L713.30,235.07 L713.55,238.07 L713.80,240.19 L714.05,237.68 L714.30,234.40 L714.55,237.68 L714.80,239.78 L715.05,236.15 L715.30,235.67 L715.55,239.33 L715.80,237.65 L716.05,235.24 L716.30,236.74 L716.55,236.04 L716.80,238.20 L717.05,237.87 L717.30,240.00 L717.55,239.16 L717.80,234.65 L718.05,238.63 L718.30,239.65 L718.55,238.80 L718.80,239.98 L719.05,236.85 L719.30,236.07 L719.55,239.86 L719.80,235.89 L720.05,233.73 L720.30,240.12 L720.55,236.64 L720.80,237.49 L721.05,235.32 L721.30,235.48 L721.55,235.83 L721.80,237.44 L722.05,238.91 L722.30,233.58 L722.55,239.69 L722.80,235.83 L723.05,236.06 L723.30,239.56 L723.55,238.06 L723.80,235.14 L724.05,241.91 L724.30,236.50 L724.55,238.72 L724.80,238.63 L725.05,241.06 L725.30,237.33 L725.55,240.26 L725.80,236.77 L726.05,240.50 L726.30,236.73 L726.55,237.53 L726.80,242.05 L727.05,238.89 L727.30,238.48 L727.55,242.74 L727.80,238.98 L728.05,236.62 L728.30,239.72 L728.55,235.88 L728.80,240.49 L729.05,240.64 L729.30,237.07 L729.55,236.95" fill="none" stroke="#0a0a0a" stroke-width="1.55" stroke-linejoin="round"/>
<rect x="425.8" y="2.2" width="303.8" height="244.2" fill="none" stroke="#0a0a0a" stroke-width="1.3"/>
<line x1="425.8" y1="246.4" x2="425.8" y2="251.2" stroke="#0a0a0a" stroke-width="1.1"/>
<text x="425.8" y="264.9" font-size="15.0" text-anchor="middle" font-weight="normal" font-style="normal" >430</text>
<line x1="476.43" y1="246.4" x2="476.43" y2="251.2" stroke="#0a0a0a" stroke-width="1.1"/>
<text x="476.43" y="264.9" font-size="15.0" text-anchor="middle" font-weight="normal" font-style="normal" >440</text>
<line x1="527.07" y1="246.4" x2="527.07" y2="251.2" stroke="#0a0a0a" stroke-width="1.1"/>
<text x="527.07" y="264.9" font-size="15.0" text-anchor="middle" font-weight="normal" font-style="normal" >450</text>
<line x1="577.7" y1="246.4" x2="577.7" y2="251.2" stroke="#0a0a0a" stroke-width="1.1"/>
<text x="577.7" y="264.9" font-size="15.0" text-anchor="middle" font-weight="normal" font-style="normal" >460</text>
<line x1="628.33" y1="246.4" x2="628.33" y2="251.2" stroke="#0a0a0a" stroke-width="1.1"/>
<text x="628.33" y="264.9" font-size="15.0" text-anchor="middle" font-weight="normal" font-style="normal" >470</text>
<line x1="678.97" y1="246.4" x2="678.97" y2="251.2" stroke="#0a0a0a" stroke-width="1.1"/>
<text x="678.97" y="264.9" font-size="15.0" text-anchor="middle" font-weight="normal" font-style="normal" >480</text>
<line x1="729.6" y1="246.4" x2="729.6" y2="251.2" stroke="#0a0a0a" stroke-width="1.1"/>
<text x="729.6" y="264.9" font-size="15.0" text-anchor="middle" font-weight="normal" font-style="normal" >490</text>
<line x1="451.12" y1="246.4" x2="451.12" y2="249.5" stroke="#0a0a0a" stroke-width="1.1"/>
<line x1="501.75" y1="246.4" x2="501.75" y2="249.5" stroke="#0a0a0a" stroke-width="1.1"/>
<line x1="552.38" y1="246.4" x2="552.38" y2="249.5" stroke="#0a0a0a" stroke-width="1.1"/>
<line x1="603.02" y1="246.4" x2="603.02" y2="249.5" stroke="#0a0a0a" stroke-width="1.1"/>
<line x1="653.65" y1="246.4" x2="653.65" y2="249.5" stroke="#0a0a0a" stroke-width="1.1"/>
<line x1="704.28" y1="246.4" x2="704.28" y2="249.5" stroke="#0a0a0a" stroke-width="1.1"/>
<line x1="421" y1="237.6" x2="425.8" y2="237.6" stroke="#0a0a0a" stroke-width="1.1"/>
<text x="419.5" y="241.5" font-size="15.0" text-anchor="end" font-weight="normal" font-style="normal" >0</text>
<line x1="421" y1="201.43" x2="425.8" y2="201.43" stroke="#0a0a0a" stroke-width="1.1"/>
<text x="419.5" y="205.33" font-size="15.0" text-anchor="end" font-weight="normal" font-style="normal" >1</text>
<line x1="421" y1="165.27" x2="425.8" y2="165.27" stroke="#0a0a0a" stroke-width="1.1"/>
<text x="419.5" y="169.17" font-size="15.0" text-anchor="end" font-weight="normal" font-style="normal" >2</text>
<line x1="421" y1="129.1" x2="425.8" y2="129.1" stroke="#0a0a0a" stroke-width="1.1"/>
<text x="419.5" y="133" font-size="15.0" text-anchor="end" font-weight="normal" font-style="normal" >3</text>
<line x1="421" y1="92.93" x2="425.8" y2="92.93" stroke="#0a0a0a" stroke-width="1.1"/>
<text x="419.5" y="96.83" font-size="15.0" text-anchor="end" font-weight="normal" font-style="normal" >4</text>
<line x1="421" y1="56.77" x2="425.8" y2="56.77" stroke="#0a0a0a" stroke-width="1.1"/>
<text x="419.5" y="60.67" font-size="15.0" text-anchor="end" font-weight="normal" font-style="normal" >5</text>
<line x1="421" y1="20.6" x2="425.8" y2="20.6" stroke="#0a0a0a" stroke-width="1.1"/>
<text x="419.5" y="24.5" font-size="15.0" text-anchor="end" font-weight="normal" font-style="normal" >6</text>
<line x1="423.4" y1="219.52" x2="425.8" y2="219.52" stroke="#0a0a0a" stroke-width="1.1"/>
<line x1="423.4" y1="183.35" x2="425.8" y2="183.35" stroke="#0a0a0a" stroke-width="1.1"/>
<line x1="423.4" y1="147.18" x2="425.8" y2="147.18" stroke="#0a0a0a" stroke-width="1.1"/>
<line x1="423.4" y1="111.02" x2="425.8" y2="111.02" stroke="#0a0a0a" stroke-width="1.1"/>
<line x1="423.4" y1="74.85" x2="425.8" y2="74.85" stroke="#0a0a0a" stroke-width="1.1"/>
<line x1="423.4" y1="38.68" x2="425.8" y2="38.68" stroke="#0a0a0a" stroke-width="1.1"/>
</g>
<g id="panel-c">
<clipPath id="clip-c"><rect x="59" y="290.7" width="304" height="244.1"/></clipPath>
<path clip-path="url(#clip-c)" d="M59.00,530.03 L59.50,529.95 L60.00,529.75 L60.50,529.93 L61.00,529.49 L61.50,529.68 L62.00,529.64 L62.50,529.61 L63.00,529.65 L63.50,529.37 L64.00,529.59 L64.50,529.43 L65.00,529.31 L65.50,529.15 L66.00,529.13 L66.50,529.32 L67.00,529.07 L67.50,529.18 L68.00,529.28 L68.50,529.23 L69.00,529.26 L69.50,528.93 L70.00,528.77 L70.50,529.03 L71.00,528.88 L71.50,528.95 L72.00,528.74 L72.50,528.87 L73.00,528.77 L73.50,528.71 L74.00,528.63 L74.50,528.57 L75.00,528.50 L75.50,528.46 L76.00,528.53 L76.50,528.26 L77.00,528.55 L77.50,528.23 L78.00,528.35 L78.50,528.15 L79.00,528.08 L79.50,528.38 L80.00,527.99 L80.50,527.80 L81.00,527.84 L81.50,527.86 L82.00,528.18 L82.50,527.85 L83.00,527.91 L83.50,527.58 L84.00,527.74 L84.50,527.74 L85.00,527.87 L85.50,527.45 L86.00,527.61 L86.50,527.53 L87.00,527.30 L87.50,527.42 L88.00,527.36 L88.50,527.02 L89.00,527.43 L89.50,527.40 L90.00,527.22 L90.50,527.06 L91.00,527.46 L91.50,527.25 L92.00,527.33 L92.50,527.35 L93.00,527.03 L93.50,527.18 L94.00,526.96 L94.50,526.90 L95.00,526.80 L95.50,526.70 L96.00,526.73 L96.50,526.45 L97.00,526.26 L97.50,526.09 L98.00,526.02 L98.50,525.69 L99.00,525.59 L99.50,525.49 L100.00,525.25 L100.50,525.10 L101.00,524.81 L101.50,524.87 L102.00,524.50 L102.50,524.09 L103.00,523.71 L103.50,523.64 L104.00,523.09 L104.50,522.70 L105.00,522.40 L105.50,522.06 L106.00,521.80 L106.50,521.23 L107.00,520.89 L107.50,520.04 L108.00,519.36 L108.50,518.34 L109.00,517.28 L109.50,515.82 L110.00,514.19 L110.50,512.44 L111.00,510.65 L111.50,508.90 L112.00,507.34 L112.50,505.79 L113.00,504.36 L113.50,503.07 L114.00,502.30 L114.50,502.10 L115.00,502.47 L115.50,503.03 L116.00,503.88 L116.50,504.86 L117.00,505.90 L117.50,507.25 L118.00,508.52 L118.50,509.68 L119.00,510.46 L119.50,511.23 L120.00,511.79 L120.50,512.48 L121.00,512.87 L121.50,513.17 L122.00,513.45 L122.50,513.50 L123.00,513.44 L123.50,513.86 L124.00,513.92 L124.50,513.94 L125.00,514.18 L125.50,514.27 L126.00,513.98 L126.50,514.06 L127.00,514.44 L127.50,514.45 L128.00,514.16 L128.50,514.12 L129.00,514.21 L129.50,514.20 L130.00,513.97 L130.50,514.06 L131.00,513.69 L131.50,513.39 L132.00,513.16 L132.50,512.50 L133.00,512.02 L133.50,511.58 L134.00,511.16 L134.50,510.66 L135.00,510.33 L135.50,509.88 L136.00,509.84 L136.50,509.41 L137.00,508.93 L137.50,508.86 L138.00,508.84 L138.50,508.75 L139.00,508.94 L139.50,508.89 L140.00,508.62 L140.50,508.69 L141.00,508.48 L141.50,508.61 L142.00,508.47 L142.50,508.69 L143.00,508.16 L143.50,507.68 L144.00,507.67 L144.50,507.53 L145.00,507.09 L145.50,506.84 L146.00,506.53 L146.50,506.18 L147.00,505.67 L147.50,505.10 L148.00,504.69 L148.50,504.02 L149.00,503.44 L149.50,502.78 L150.00,502.21 L150.50,501.66 L151.00,500.83 L151.50,500.22 L152.00,499.53 L152.50,498.70 L153.00,497.93 L153.50,497.03 L154.00,496.29 L154.50,495.38 L155.00,494.37 L155.50,493.23 L156.00,492.10 L156.50,490.93 L157.00,489.66 L157.50,488.27 L158.00,486.89 L158.50,485.40 L159.00,483.89 L159.50,482.29 L160.00,480.60 L160.50,478.76 L161.00,476.87 L161.50,474.81 L162.00,472.60 L162.50,470.31 L163.00,467.94 L163.50,465.49 L164.00,462.98 L164.50,460.31 L165.00,457.48 L165.50,454.67 L166.00,452.05 L166.50,449.70 L167.00,447.57 L167.50,445.60 L168.00,443.71 L168.50,441.93 L169.00,440.22 L169.50,438.49 L170.00,436.81 L170.50,435.18 L171.00,433.51 L171.50,431.88 L172.00,430.25 L172.50,428.67 L173.00,427.21 L173.50,425.77 L174.00,424.44 L174.50,422.99 L175.00,421.59 L175.50,420.06 L176.00,418.37 L176.50,416.38 L177.00,414.11 L177.50,411.50 L178.00,408.60 L178.50,405.22 L179.00,401.23 L179.50,396.67 L180.00,391.74 L180.50,386.74 L181.00,381.66 L181.50,376.49 L182.00,371.27 L182.50,366.06 L183.00,360.86 L183.50,355.77 L184.00,350.76 L184.50,345.80 L185.00,341.48 L185.50,338.24 L186.00,336.21 L186.50,335.76 L187.00,335.74 L187.50,336.65 L188.00,339.82 L188.50,344.27 L189.00,349.60 L189.50,355.16 L190.00,360.71 L190.50,366.19 L191.00,371.64 L191.50,377.08 L192.00,382.44 L192.50,387.70 L193.00,392.68 L193.50,397.31 L194.00,401.75 L194.50,406.12 L195.00,410.48 L195.50,414.68 L196.00,418.70 L196.50,422.46 L197.00,425.71 L197.50,428.37 L198.00,430.50 L198.50,432.32 L199.00,433.89 L199.50,435.24 L200.00,436.59 L200.50,437.71 L201.00,438.82 L201.50,439.57 L202.00,439.94 L202.50,440.10 L203.00,440.31 L203.50,440.50 L204.00,440.62 L204.50,440.51 L205.00,440.30 L205.50,439.58 L206.00,438.83 L206.50,437.81 L207.00,436.84 L207.50,435.68 L208.00,434.49 L208.50,433.30 L209.00,431.98 L209.50,430.54 L210.00,429.27 L210.50,427.92 L211.00,426.75 L211.50,425.68 L212.00,424.61 L212.50,423.82 L213.00,423.03 L213.50,422.45 L214.00,422.06 L214.50,421.91 L215.00,421.75 L215.50,422.67 L216.00,424.32 L216.50,426.82 L217.00,429.40 L217.50,431.98 L218.00,434.49 L218.50,436.98 L219.00,439.76 L219.50,443.33 L220.00,447.04 L220.50,450.18 L221.00,453.10 L221.50,455.87 L222.00,458.50 L222.50,460.97 L223.00,463.28 L223.50,465.48 L224.00,467.61 L224.50,469.64 L225.00,471.59 L225.50,473.37 L226.00,475.16 L226.50,476.80 L227.00,478.39 L227.50,479.90 L228.00,481.31 L228.50,482.68 L229.00,483.91 L229.50,485.09 L230.00,486.11 L230.50,487.26 L231.00,488.20 L231.50,489.10 L232.00,489.92 L232.50,490.69 L233.00,491.37 L233.50,492.02 L234.00,492.62 L234.50,493.12 L235.00,493.47 L235.50,494.03 L236.00,494.40 L236.50,494.94 L237.00,495.55 L237.50,495.91 L238.00,496.34 L238.50,496.81 L239.00,497.47 L239.50,498.17 L240.00,499.08 L240.50,499.81 L241.00,500.69 L241.50,501.48 L242.00,502.32 L242.50,503.16 L243.00,503.73 L243.50,504.36 L244.00,504.83 L244.50,505.47 L245.00,505.76 L245.50,506.19 L246.00,506.59 L246.50,506.99 L247.00,507.57 L247.50,508.18 L248.00,508.14 L248.50,508.71 L249.00,508.97 L249.50,509.16 L250.00,509.60 L250.50,509.95 L251.00,510.24 L251.50,510.87 L252.00,510.75 L252.50,511.34 L253.00,511.64 L253.50,511.82 L254.00,512.18 L254.50,512.53 L255.00,512.67 L255.50,512.92 L256.00,513.17 L256.50,513.01 L257.00,513.68 L257.50,513.98 L258.00,514.00 L258.50,514.19 L259.00,514.04 L259.50,514.41 L260.00,514.50 L260.50,514.72 L261.00,515.12 L261.50,515.07 L262.00,515.36 L262.50,515.33 L263.00,515.78 L263.50,516.03 L264.00,516.16 L264.50,516.41 L265.00,516.99 L265.50,516.85 L266.00,517.12 L266.50,517.41 L267.00,517.92 L267.50,518.29 L268.00,518.31 L268.50,518.41 L269.00,518.67 L269.50,519.09 L270.00,519.02 L270.50,519.53 L271.00,519.70 L271.50,519.67 L272.00,519.90 L272.50,520.06 L273.00,520.32 L273.50,520.09 L274.00,520.55 L274.50,520.47 L275.00,520.55 L275.50,520.81 L276.00,520.90 L276.50,520.93 L277.00,520.98 L277.50,521.21 L278.00,521.69 L278.50,521.91 L279.00,521.86 L279.50,522.09 L280.00,522.00 L280.50,522.21 L281.00,522.41 L281.50,522.38 L282.00,522.55 L282.50,522.86 L283.00,522.96 L283.50,523.01 L284.00,523.37 L284.50,523.44 L285.00,523.77 L285.50,523.78 L286.00,523.89 L286.50,524.09 L287.00,524.19 L287.50,524.26 L288.00,524.44 L288.50,524.73 L289.00,524.84 L289.50,525.05 L290.00,524.73 L290.50,525.03 L291.00,525.12 L291.50,525.30 L292.00,525.30 L292.50,525.37 L293.00,525.64 L293.50,525.63 L294.00,525.51 L294.50,525.95 L295.00,525.97 L295.50,525.81 L296.00,526.08 L296.50,525.92 L297.00,526.27 L297.50,526.14 L298.00,526.12 L298.50,526.26 L299.00,526.28 L299.50,526.49 L300.00,526.56 L300.50,526.62 L301.00,526.60 L301.50,526.22 L302.00,526.85 L302.50,526.63 L303.00,527.02 L303.50,527.22 L304.00,527.17 L304.50,527.14 L305.00,527.24 L305.50,527.32 L306.00,527.33 L306.50,527.39 L307.00,527.41 L307.50,527.79 L308.00,527.68 L308.50,527.89 L309.00,527.77 L309.50,527.89 L310.00,527.91 L310.50,528.07 L311.00,528.18 L311.50,528.16 L312.00,528.08 L312.50,528.12 L313.00,528.54 L313.50,528.31 L314.00,528.36 L314.50,528.68 L315.00,528.67 L315.50,528.64 L316.00,528.55 L316.50,529.01 L317.00,528.76 L317.50,528.83 L318.00,528.77 L318.50,528.62 L319.00,528.67 L319.50,528.97 L320.00,529.01 L320.50,528.95 L321.00,528.84 L321.50,528.83 L322.00,529.02 L322.50,528.88 L323.00,529.26 L323.50,529.32 L324.00,529.59 L324.50,529.32 L325.00,529.11 L325.50,529.08 L326.00,528.71 L326.50,529.15 L327.00,529.23 L327.50,529.41 L328.00,529.37 L328.50,529.38 L329.00,529.34 L329.50,529.42 L330.00,529.55 L330.50,529.18 L331.00,529.29 L331.50,529.16 L332.00,529.62 L332.50,529.58 L333.00,529.51 L333.50,529.23 L334.00,529.45 L334.50,529.40 L335.00,529.45 L335.50,529.42 L336.00,529.54 L336.50,529.41 L337.00,529.61 L337.50,529.52 L338.00,529.45 L338.50,529.49 L339.00,529.45 L339.50,529.64 L340.00,529.49 L340.50,529.58 L341.00,529.49 L341.50,529.33 L342.00,529.70 L342.50,529.41 L343.00,529.68 L343.50,529.64 L344.00,529.34 L344.50,529.45 L345.00,529.52 L345.50,529.48 L346.00,529.44 L346.50,529.73 L347.00,529.59 L347.50,529.69 L348.00,529.57 L348.50,529.69 L349.00,529.54 L349.50,529.65 L350.00,529.75 L350.50,529.68 L351.00,529.61 L351.50,529.52 L352.00,529.71 L352.50,529.75 L353.00,529.66 L353.50,529.59 L354.00,529.79 L354.50,530.09 L355.00,529.68 L355.50,529.78 L356.00,529.79 L356.50,529.36 L357.00,529.77 L357.50,529.65 L358.00,529.96 L358.50,529.72 L359.00,529.65 L359.50,529.74 L360.00,529.80 L360.50,529.70 L361.00,529.78 L361.50,529.59 L362.00,529.76 L362.50,529.91 L363.00,530.10" fill="none" stroke="#0a0a0a" stroke-width="1.3" stroke-linejoin="round"/>
<rect x="59" y="290.7" width="304" height="244.1" fill="none" stroke="#0a0a0a" stroke-width="1.3"/>
<line x1="59" y1="534.8" x2="59" y2="539.6" stroke="#0a0a0a" stroke-width="1.1"/>
<text x="59" y="553.3" font-size="15.0" text-anchor="middle" font-weight="normal" font-style="normal" >570</text>
<line x1="119.8" y1="534.8" x2="119.8" y2="539.6" stroke="#0a0a0a" stroke-width="1.1"/>
<text x="119.8" y="553.3" font-size="15.0" text-anchor="middle" font-weight="normal" font-style="normal" >580</text>
<line x1="180.6" y1="534.8" x2="180.6" y2="539.6" stroke="#0a0a0a" stroke-width="1.1"/>
<text x="180.6" y="553.3" font-size="15.0" text-anchor="middle" font-weight="normal" font-style="normal" >590</text>
<line x1="241.4" y1="534.8" x2="241.4" y2="539.6" stroke="#0a0a0a" stroke-width="1.1"/>
<text x="241.4" y="553.3" font-size="15.0" text-anchor="middle" font-weight="normal" font-style="normal" >600</text>
<line x1="302.2" y1="534.8" x2="302.2" y2="539.6" stroke="#0a0a0a" stroke-width="1.1"/>
<text x="302.2" y="553.3" font-size="15.0" text-anchor="middle" font-weight="normal" font-style="normal" >610</text>
<line x1="363" y1="534.8" x2="363" y2="539.6" stroke="#0a0a0a" stroke-width="1.1"/>
<text x="363" y="553.3" font-size="15.0" text-anchor="middle" font-weight="normal" font-style="normal" >620</text>
<line x1="89.4" y1="534.8" x2="89.4" y2="537.9" stroke="#0a0a0a" stroke-width="1.1"/>
<line x1="150.2" y1="534.8" x2="150.2" y2="537.9" stroke="#0a0a0a" stroke-width="1.1"/>
<line x1="211" y1="534.8" x2="211" y2="537.9" stroke="#0a0a0a" stroke-width="1.1"/>
<line x1="271.8" y1="534.8" x2="271.8" y2="537.9" stroke="#0a0a0a" stroke-width="1.1"/>
<line x1="332.6" y1="534.8" x2="332.6" y2="537.9" stroke="#0a0a0a" stroke-width="1.1"/>
<line x1="54.2" y1="529.3" x2="59" y2="529.3" stroke="#0a0a0a" stroke-width="1.1"/>
<text x="52.7" y="533.2" font-size="15.0" text-anchor="end" font-weight="normal" font-style="normal" >0.0</text>
<line x1="54.2" y1="469.65" x2="59" y2="469.65" stroke="#0a0a0a" stroke-width="1.1"/>
<text x="52.7" y="473.55" font-size="15.0" text-anchor="end" font-weight="normal" font-style="normal" >0.5</text>
<line x1="54.2" y1="410" x2="59" y2="410" stroke="#0a0a0a" stroke-width="1.1"/>
<text x="52.7" y="413.9" font-size="15.0" text-anchor="end" font-weight="normal" font-style="normal" >1.0</text>
<line x1="54.2" y1="350.35" x2="59" y2="350.35" stroke="#0a0a0a" stroke-width="1.1"/>
<text x="52.7" y="354.25" font-size="15.0" text-anchor="end" font-weight="normal" font-style="normal" >1.5</text>
<line x1="54.2" y1="290.7" x2="59" y2="290.7" stroke="#0a0a0a" stroke-width="1.1"/>
<text x="52.7" y="294.6" font-size="15.0" text-anchor="end" font-weight="normal" font-style="normal" >2.0</text>
<line x1="56.6" y1="499.47" x2="59" y2="499.47" stroke="#0a0a0a" stroke-width="1.1"/>
<line x1="56.6" y1="439.82" x2="59" y2="439.82" stroke="#0a0a0a" stroke-width="1.1"/>
<line x1="56.6" y1="380.17" x2="59" y2="380.17" stroke="#0a0a0a" stroke-width="1.1"/>
<line x1="56.6" y1="320.52" x2="59" y2="320.52" stroke="#0a0a0a" stroke-width="1.1"/>
</g>
<g id="panel-d">
<clipPath id="clip-d"><rect x="425.8" y="290.8" width="304.4" height="244.2"/></clipPath>
<path clip-path="url(#clip-d)" d="M425.80,525.83 L426.08,524.39 L426.36,527.40 L426.64,526.85 L426.92,528.98 L427.20,527.06 L427.48,523.09 L427.76,524.33 L428.04,524.06 L428.32,524.46 L428.60,524.12 L428.88,520.88 L429.16,516.51 L429.44,521.24 L429.72,516.76 L430.00,523.67 L430.28,523.46 L430.56,517.91 L430.84,525.70 L431.12,526.29 L431.40,523.74 L431.68,528.92 L431.96,529.59 L432.24,519.43 L432.52,526.83 L432.80,524.86 L433.08,524.78 L433.36,526.48 L433.64,521.02 L433.92,521.43 L434.20,520.66 L434.48,520.89 L434.76,523.05 L435.04,518.58 L435.32,519.92 L435.60,525.27 L435.88,523.13 L436.16,524.62 L436.44,517.12 L436.72,520.76 L437.00,521.51 L437.28,523.45 L437.56,521.40 L437.84,526.41 L438.12,523.13 L438.40,523.38 L438.68,523.36 L438.96,525.65 L439.24,521.75 L439.52,527.01 L439.80,524.82 L440.08,523.81 L440.36,523.43 L440.64,525.01 L440.92,526.64 L441.20,526.40 L441.48,524.52 L441.76,526.17 L442.04,523.66 L442.32,527.40 L442.60,523.17 L442.88,516.41 L443.16,527.67 L443.44,523.60 L443.72,519.38 L444.00,522.59 L444.28,520.32 L444.56,530.16 L444.84,524.87 L445.12,518.04 L445.40,525.02 L445.68,521.90 L445.96,529.53 L446.24,519.73 L446.52,515.78 L446.80,523.41 L447.08,522.04 L447.36,521.81 L447.64,516.11 L447.92,524.58 L448.20,528.69 L448.48,516.86 L448.76,527.02 L449.04,521.28 L449.32,530.90 L449.60,524.58 L449.88,522.52 L450.16,526.78 L450.44,524.86 L450.72,521.17 L451.00,525.46 L451.28,521.43 L451.56,517.20 L451.84,529.80 L452.12,521.94 L452.40,521.08 L452.68,524.20 L452.96,517.93 L453.24,518.61 L453.52,521.42 L453.80,521.35 L454.08,523.29 L454.36,526.76 L454.64,521.48 L454.92,524.67 L455.20,525.02 L455.48,519.45 L455.76,523.78 L456.04,519.91 L456.32,526.52 L456.60,524.51 L456.88,523.06 L457.16,518.58 L457.44,523.37 L457.72,520.44 L458.00,525.28 L458.28,522.54 L458.56,520.23 L458.84,525.93 L459.12,525.23 L459.40,520.85 L459.68,526.61 L459.96,521.75 L460.24,521.67 L460.52,523.05 L460.80,520.11 L461.08,521.08 L461.36,521.95 L461.64,527.48 L461.92,527.32 L462.20,521.46 L462.48,527.56 L462.76,522.04 L463.04,523.38 L463.32,524.97 L463.60,522.95 L463.88,529.89 L464.16,522.65 L464.44,517.83 L464.72,526.02 L465.00,520.28 L465.28,520.56 L465.56,511.63 L465.84,524.73 L466.12,524.05 L466.40,523.92 L466.68,524.44 L466.96,526.72 L467.24,520.92 L467.52,524.09 L467.80,518.48 L468.08,519.70 L468.36,524.29 L468.64,522.03 L468.92,516.27 L469.20,521.80 L469.48,519.95 L469.76,517.79 L470.04,521.87 L470.32,519.05 L470.60,515.15 L470.88,516.62 L471.16,526.07 L471.44,515.19 L471.72,520.88 L472.00,522.12 L472.28,522.18 L472.56,516.00 L472.84,518.95 L473.12,520.46 L473.40,522.62 L473.68,517.84 L473.96,516.14 L474.24,523.30 L474.52,523.66 L474.80,521.26 L475.08,518.06 L475.36,521.45 L475.64,520.51 L475.92,522.95 L476.20,516.11 L476.48,520.66 L476.76,519.80 L477.04,516.70 L477.32,521.12 L477.60,520.56 L477.88,519.12 L478.16,521.81 L478.44,515.85 L478.72,520.37 L479.00,521.98 L479.28,521.49 L479.56,524.09 L479.84,516.55 L480.12,515.51 L480.40,521.24 L480.68,521.91 L480.96,527.36 L481.24,522.35 L481.52,517.38 L481.80,522.87 L482.08,517.37 L482.36,515.20 L482.64,528.65 L482.92,521.06 L483.20,522.28 L483.48,521.72 L483.76,525.78 L484.04,520.67 L484.32,523.69 L484.60,516.21 L484.88,514.94 L485.16,524.17 L485.44,524.27 L485.72,521.02 L486.00,520.01 L486.28,519.75 L486.56,516.87 L486.84,524.15 L487.12,521.18 L487.40,520.61 L487.68,520.12 L487.96,522.28 L488.24,520.43 L488.52,521.17 L488.80,514.80 L489.08,520.29 L489.36,525.77 L489.64,516.80 L489.92,518.04 L490.20,521.37 L490.48,521.54 L490.76,520.41 L491.04,512.98 L491.32,519.93 L491.60,514.34 L491.88,515.50 L492.16,520.00 L492.44,517.18 L492.72,520.81 L493.00,528.50 L493.28,520.65 L493.56,520.45 L493.84,515.08 L494.12,515.90 L494.40,514.49 L494.68,516.22 L494.96,514.35 L495.24,515.76 L495.52,517.23 L495.80,514.59 L496.08,513.19 L496.36,513.36 L496.64,519.33 L496.92,518.01 L497.20,521.17 L497.48,521.21 L497.76,516.62 L498.04,519.93 L498.32,512.94 L498.60,525.20 L498.88,521.58 L499.16,516.90 L499.44,513.74 L499.72,518.80 L500.00,511.34 L500.28,514.90 L500.56,519.89 L500.84,517.59 L501.12,515.61 L501.40,520.24 L501.68,513.53 L501.96,517.70 L502.24,514.91 L502.52,513.50 L502.80,517.46 L503.08,512.29 L503.36,521.24 L503.64,512.64 L503.92,520.42 L504.20,509.86 L504.48,514.76 L504.76,508.31 L505.04,507.22 L505.32,511.39 L505.60,512.38 L505.88,505.43 L506.16,512.63 L506.44,505.57 L506.72,507.86 L507.00,507.96 L507.28,507.97 L507.56,499.60 L507.84,509.93 L508.12,505.89 L508.40,502.08 L508.68,499.54 L508.96,496.79 L509.24,497.32 L509.52,502.99 L509.80,499.61 L510.08,496.56 L510.36,498.07 L510.64,504.44 L510.92,497.82 L511.20,496.55 L511.48,502.43 L511.76,499.10 L512.04,497.29 L512.32,494.71 L512.60,491.18 L512.88,491.94 L513.16,493.68 L513.44,494.01 L513.72,495.32 L514.00,495.37 L514.28,493.72 L514.56,493.11 L514.84,488.54 L515.12,484.22 L515.40,488.88 L515.68,486.86 L515.96,487.20 L516.24,487.78 L516.52,484.02 L516.80,483.81 L517.08,486.42 L517.36,486.47 L517.64,483.33 L517.92,486.40 L518.20,483.44 L518.48,480.22 L518.76,482.99 L519.04,488.27 L519.32,479.39 L519.60,484.64 L519.88,484.64 L520.16,484.32 L520.44,476.18 L520.72,484.53 L521.00,477.71 L521.28,475.77 L521.56,475.06 L521.84,476.88 L522.12,474.20 L522.40,472.29 L522.68,475.16 L522.96,467.66 L523.24,465.04 L523.52,468.61 L523.80,466.67 L524.08,466.27 L524.36,458.40 L524.64,463.50 L524.92,460.38 L525.20,463.08 L525.48,452.67 L525.76,456.36 L526.04,454.10 L526.32,449.40 L526.60,452.40 L526.88,459.01 L527.16,455.28 L527.44,456.01 L527.72,462.25 L528.00,464.01 L528.28,465.01 L528.56,459.90 L528.84,462.85 L529.12,466.94 L529.40,461.96 L529.68,462.08 L529.96,467.58 L530.24,470.22 L530.52,461.34 L530.80,456.49 L531.08,460.09 L531.36,461.27 L531.64,463.78 L531.92,465.77 L532.20,462.74 L532.48,460.30 L532.76,462.25 L533.04,457.85 L533.32,459.71 L533.60,456.81 L533.88,466.01 L534.16,459.14 L534.44,452.92 L534.72,451.28 L535.00,451.83 L535.28,446.95 L535.56,448.54 L535.84,447.30 L536.12,451.01 L536.40,445.77 L536.68,443.39 L536.96,440.43 L537.24,439.60 L537.52,441.57 L537.80,439.70 L538.08,442.18 L538.36,435.33 L538.64,438.07 L538.92,433.69 L539.20,430.77 L539.48,423.15 L539.76,422.50 L540.04,424.97 L540.32,424.01 L540.60,418.47 L540.88,418.20 L541.16,413.34 L541.44,412.48 L541.72,411.00 L542.00,416.27 L542.28,414.40 L542.56,413.08 L542.84,413.66 L543.12,417.54 L543.40,418.25 L543.68,416.80 L543.96,426.00 L544.24,424.61 L544.52,426.47 L544.80,432.82 L545.08,433.43 L545.36,431.42 L545.64,434.54 L545.92,430.72 L546.20,433.08 L546.48,428.94 L546.76,440.80 L547.04,431.68 L547.32,440.65 L547.60,436.41 L547.88,436.49 L548.16,439.60 L548.44,441.65 L548.72,443.33 L549.00,447.62 L549.28,443.53 L549.56,445.70 L549.84,441.28 L550.12,445.93 L550.40,444.38 L550.68,442.56 L550.96,443.91 L551.24,444.10 L551.52,444.98 L551.80,445.70 L552.08,442.70 L552.36,441.91 L552.64,446.79 L552.92,438.67 L553.20,442.18 L553.48,449.28 L553.76,435.16 L554.04,441.75 L554.32,446.25 L554.60,438.49 L554.88,452.48 L555.16,435.35 L555.44,448.65 L555.72,449.08 L556.00,447.03 L556.28,443.37 L556.56,445.41 L556.84,441.42 L557.12,447.21 L557.40,441.02 L557.68,443.97 L557.96,448.33 L558.24,441.56 L558.52,444.21 L558.80,446.13 L559.08,441.35 L559.36,449.78 L559.64,447.24 L559.92,441.29 L560.20,446.29 L560.48,444.03 L560.76,444.56 L561.04,447.12 L561.32,444.66 L561.60,450.30 L561.88,444.92 L562.16,450.59 L562.44,447.32 L562.72,450.38 L563.00,445.87 L563.28,446.08 L563.56,444.02 L563.84,449.81 L564.12,451.06 L564.40,455.02 L564.68,452.35 L564.96,448.96 L565.24,447.48 L565.52,449.49 L565.80,448.11 L566.08,452.98 L566.36,451.16 L566.64,445.15 L566.92,445.45 L567.20,451.98 L567.48,448.22 L567.76,446.13 L568.04,450.41 L568.32,444.86 L568.60,444.77 L568.88,443.70 L569.16,438.32 L569.44,446.91 L569.72,439.61 L570.00,441.00 L570.28,439.73 L570.56,443.68 L570.84,440.37 L571.12,439.87 L571.40,433.69 L571.68,438.02 L571.96,432.84 L572.24,437.88 L572.52,437.45 L572.80,435.64 L573.08,441.77 L573.36,436.32 L573.64,436.02 L573.92,434.03 L574.20,432.42 L574.48,435.66 L574.76,435.56 L575.04,427.23 L575.32,434.29 L575.60,431.95 L575.88,432.78 L576.16,430.56 L576.44,424.41 L576.72,424.00 L577.00,432.98 L577.28,427.26 L577.56,421.23 L577.84,426.23 L578.12,423.27 L578.40,417.83 L578.68,415.73 L578.96,417.27 L579.24,422.56 L579.52,420.78 L579.80,419.35 L580.08,420.21 L580.36,420.36 L580.64,410.94 L580.92,415.73 L581.20,413.16 L581.48,410.96 L581.76,412.18 L582.04,412.58 L582.32,411.04 L582.60,406.15 L582.88,407.04 L583.16,410.90 L583.44,399.91 L583.72,394.43 L584.00,394.16 L584.28,389.57 L584.56,383.65 L584.84,374.41 L585.12,373.09 L585.40,363.03 L585.68,356.13 L585.96,351.36 L586.24,347.19 L586.52,344.67 L586.80,340.50 L587.08,335.36 L587.36,335.74 L587.64,332.68 L587.92,336.42 L588.20,333.22 L588.48,336.54 L588.76,346.09 L589.04,345.00 L589.32,351.71 L589.60,356.47 L589.88,360.46 L590.16,365.88 L590.44,375.16 L590.72,369.77 L591.00,381.24 L591.28,387.57 L591.56,382.18 L591.84,382.76 L592.12,385.81 L592.40,389.99 L592.68,380.80 L592.96,385.45 L593.24,385.01 L593.52,387.83 L593.80,386.91 L594.08,388.93 L594.36,385.77 L594.64,387.68 L594.92,385.70 L595.20,386.08 L595.48,388.16 L595.76,388.51 L596.04,385.57 L596.32,394.97 L596.60,389.82 L596.88,386.03 L597.16,394.37 L597.44,388.21 L597.72,391.94 L598.00,389.51 L598.28,389.33 L598.56,387.89 L598.84,384.35 L599.12,384.97 L599.40,389.91 L599.68,375.67 L599.96,381.31 L600.24,381.09 L600.52,375.29 L600.80,373.12 L601.08,383.69 L601.36,375.46 L601.64,383.93 L601.92,380.52 L602.20,380.87 L602.48,383.76 L602.76,385.87 L603.04,389.08 L603.32,388.56 L603.60,389.41 L603.88,391.26 L604.16,396.44 L604.44,396.80 L604.72,393.52 L605.00,396.45 L605.28,401.09 L605.56,400.33 L605.84,402.98 L606.12,403.35 L606.40,407.32 L606.68,411.27 L606.96,414.92 L607.24,414.24 L607.52,422.05 L607.80,418.11 L608.08,429.27 L608.36,425.17 L608.64,425.76 L608.92,424.97 L609.20,420.44 L609.48,429.90 L609.76,432.81 L610.04,439.68 L610.32,432.36 L610.60,443.56 L610.88,439.38 L611.16,444.04 L611.44,436.65 L611.72,446.12 L612.00,446.60 L612.28,451.37 L612.56,451.53 L612.84,449.87 L613.12,457.66 L613.40,458.73 L613.68,460.22 L613.96,463.13 L614.24,465.09 L614.52,463.44 L614.80,461.08 L615.08,462.48 L615.36,472.08 L615.64,471.50 L615.92,470.85 L616.20,470.29 L616.48,472.76 L616.76,473.68 L617.04,473.40 L617.32,473.04 L617.60,482.95 L617.88,477.48 L618.16,475.48 L618.44,473.90 L618.72,476.39 L619.00,481.66 L619.28,482.36 L619.56,479.73 L619.84,481.12 L620.12,480.44 L620.40,478.28 L620.68,486.58 L620.96,483.96 L621.24,491.23 L621.52,481.02 L621.80,483.37 L622.08,486.96 L622.36,483.37 L622.64,479.64 L622.92,481.07 L623.20,484.46 L623.48,485.14 L623.76,483.56 L624.04,487.02 L624.32,486.83 L624.60,484.48 L624.88,483.39 L625.16,482.40 L625.44,485.03 L625.72,486.30 L626.00,483.59 L626.28,485.10 L626.56,482.89 L626.84,479.83 L627.12,481.79 L627.40,488.18 L627.68,488.07 L627.96,492.65 L628.24,489.03 L628.52,492.68 L628.80,495.27 L629.08,495.39 L629.36,491.42 L629.64,493.63 L629.92,495.46 L630.20,492.74 L630.48,498.20 L630.76,500.76 L631.04,496.81 L631.32,505.42 L631.60,499.05 L631.88,500.15 L632.16,500.86 L632.44,500.19 L632.72,504.59 L633.00,504.16 L633.28,510.20 L633.56,507.70 L633.84,508.32 L634.12,506.77 L634.40,503.84 L634.68,508.89 L634.96,507.32 L635.24,513.88 L635.52,511.60 L635.80,517.81 L636.08,515.69 L636.36,516.77 L636.64,515.40 L636.92,515.75 L637.20,517.52 L637.48,518.62 L637.76,513.36 L638.04,517.39 L638.32,524.44 L638.60,515.51 L638.88,514.96 L639.16,513.52 L639.44,511.01 L639.72,519.70 L640.00,515.96 L640.28,516.73 L640.56,521.80 L640.84,523.96 L641.12,512.72 L641.40,519.09 L641.68,517.63 L641.96,516.85 L642.24,517.08 L642.52,515.38 L642.80,520.66 L643.08,517.40 L643.36,516.47 L643.64,519.40 L643.92,518.20 L644.20,516.72 L644.48,516.24 L644.76,520.92 L645.04,516.77 L645.32,514.77 L645.60,512.21 L645.88,513.87 L646.16,511.53 L646.44,515.33 L646.72,515.81 L647.00,508.19 L647.28,515.02 L647.56,517.11 L647.84,515.53 L648.12,511.85 L648.40,519.21 L648.68,512.76 L648.96,511.03 L649.24,511.54 L649.52,515.09 L649.80,518.41 L650.08,519.04 L650.36,515.92 L650.64,511.32 L650.92,513.12 L651.20,512.36 L651.48,514.77 L651.76,509.54 L652.04,515.79 L652.32,517.59 L652.60,515.00 L652.88,517.05 L653.16,512.47 L653.44,510.81 L653.72,513.55 L654.00,519.51 L654.28,519.13 L654.56,514.27 L654.84,519.79 L655.12,514.79 L655.40,520.90 L655.68,517.55 L655.96,514.51 L656.24,518.68 L656.52,513.55 L656.80,513.07 L657.08,511.42 L657.36,517.11 L657.64,516.14 L657.92,516.12 L658.20,515.08 L658.48,521.24 L658.76,515.16 L659.04,514.23 L659.32,520.79 L659.60,521.44 L659.88,517.95 L660.16,511.19 L660.44,515.06 L660.72,519.17 L661.00,517.33 L661.28,522.53 L661.56,513.05 L661.84,519.94 L662.12,515.79 L662.40,522.38 L662.68,517.94 L662.96,521.75 L663.24,516.39 L663.52,514.05 L663.80,515.21 L664.08,517.04 L664.36,515.83 L664.64,523.33 L664.92,523.95 L665.20,520.59 L665.48,516.44 L665.76,519.60 L666.04,517.87 L666.32,525.06 L666.60,521.43 L666.88,522.11 L667.16,519.28 L667.44,514.05 L667.72,518.21 L668.00,517.11 L668.28,522.04 L668.56,521.13 L668.84,518.14 L669.12,519.46 L669.40,525.84 L669.68,517.43 L669.96,517.47 L670.24,519.64 L670.52,517.97 L670.80,518.73 L671.08,521.75 L671.36,525.57 L671.64,513.85 L671.92,519.50 L672.20,519.54 L672.48,518.97 L672.76,518.48 L673.04,517.83 L673.32,522.12 L673.60,517.14 L673.88,518.13 L674.16,518.43 L674.44,518.68 L674.72,517.67 L675.00,521.46 L675.28,518.07 L675.56,518.64 L675.84,517.87 L676.12,514.74 L676.40,515.34 L676.68,514.66 L676.96,518.84 L677.24,515.96 L677.52,514.94 L677.80,519.36 L678.08,520.45 L678.36,513.06 L678.64,524.59 L678.92,519.29 L679.20,519.00 L679.48,523.03 L679.76,519.93 L680.04,517.89 L680.32,527.28 L680.60,516.70 L680.88,520.10 L681.16,523.40 L681.44,517.28 L681.72,520.65 L682.00,522.45 L682.28,529.27 L682.56,518.61 L682.84,521.57 L683.12,524.08 L683.40,522.35 L683.68,518.30 L683.96,523.77 L684.24,522.94 L684.52,524.21 L684.80,526.63 L685.08,526.38 L685.36,524.52 L685.64,524.34 L685.92,519.84 L686.20,523.15 L686.48,524.46 L686.76,522.56 L687.04,524.34 L687.32,521.44 L687.60,529.36 L687.88,531.54 L688.16,523.30 L688.44,526.05 L688.72,524.09 L689.00,529.17 L689.28,526.57 L689.56,525.53 L689.84,524.66 L690.12,525.95 L690.40,522.36 L690.68,528.01 L690.96,523.54 L691.24,527.78 L691.52,526.55 L691.80,529.85 L692.08,526.28 L692.36,529.81 L692.64,523.49 L692.92,528.63 L693.20,525.97 L693.48,527.43 L693.76,527.10 L694.04,530.02 L694.32,520.33 L694.60,528.11 L694.88,522.17 L695.16,531.12 L695.44,520.65 L695.72,523.86 L696.00,521.65 L696.28,532.57 L696.56,522.89 L696.84,527.48 L697.12,525.30 L697.40,521.08 L697.68,525.85 L697.96,529.09 L698.24,526.23 L698.52,529.87 L698.80,525.49 L699.08,526.63 L699.36,525.25 L699.64,527.57 L699.92,532.61 L700.20,527.46 L700.48,526.82 L700.76,524.06 L701.04,523.52 L701.32,530.76 L701.60,522.19 L701.88,522.78 L702.16,525.40 L702.44,524.26 L702.72,532.07 L703.00,517.76 L703.28,526.73 L703.56,527.86 L703.84,521.80 L704.12,523.36 L704.40,526.92 L704.68,530.89 L704.96,522.49 L705.24,520.33 L705.52,528.77 L705.80,530.61 L706.08,524.49 L706.36,518.31 L706.64,530.42 L706.92,525.00 L707.20,529.38 L707.48,525.54 L707.76,524.47 L708.04,524.23 L708.32,530.60 L708.60,530.49 L708.88,518.72 L709.16,522.71 L709.44,531.68 L709.72,524.63 L710.00,521.37 L710.28,525.89 L710.56,525.54 L710.84,525.60 L711.12,524.36 L711.40,524.94 L711.68,524.48 L711.96,527.11 L712.24,523.35 L712.52,525.10 L712.80,525.61 L713.08,530.42 L713.36,527.37 L713.64,525.80 L713.92,527.96 L714.20,527.56 L714.48,529.84 L714.76,527.95 L715.04,532.22 L715.32,530.77 L715.60,526.23 L715.88,525.03 L716.16,529.34 L716.44,528.16 L716.72,526.17 L717.00,521.64 L717.28,520.50 L717.56,527.72 L717.84,529.15 L718.12,529.28 L718.40,522.41 L718.68,530.11 L718.96,524.96 L719.24,528.03 L719.52,528.15 L719.80,524.16 L720.08,524.89 L720.36,520.03 L720.64,523.87 L720.92,520.98 L721.20,528.40 L721.48,527.19 L721.76,530.03 L722.04,528.22 L722.32,524.98 L722.60,528.25 L722.88,525.85 L723.16,529.18 L723.44,528.24 L723.72,523.97 L724.00,527.27 L724.28,527.47 L724.56,526.31 L724.84,530.31 L725.12,533.04 L725.40,526.20 L725.68,526.29 L725.96,520.06 L726.24,527.09 L726.52,526.11 L726.80,520.45 L727.08,528.57 L727.36,529.60 L727.64,525.26 L727.92,526.48 L728.20,524.56 L728.48,530.30 L728.76,522.81 L729.04,526.82 L729.32,534.33 L729.60,528.09 L729.88,529.50 L730.16,527.51" fill="none" stroke="#0a0a0a" stroke-width="1.5" stroke-linejoin="round"/>
<rect x="425.8" y="290.8" width="304.4" height="244.2" fill="none" stroke="#0a0a0a" stroke-width="1.3"/>
<line x1="463.85" y1="535" x2="463.85" y2="539.8" stroke="#0a0a0a" stroke-width="1.1"/>
<text x="463.85" y="553.5" font-size="15.0" text-anchor="middle" font-weight="normal" font-style="normal" >950</text>
<line x1="539.95" y1="535" x2="539.95" y2="539.8" stroke="#0a0a0a" stroke-width="1.1"/>
<text x="539.95" y="553.5" font-size="15.0" text-anchor="middle" font-weight="normal" font-style="normal" >1000</text>
<line x1="616.05" y1="535" x2="616.05" y2="539.8" stroke="#0a0a0a" stroke-width="1.1"/>
<text x="616.05" y="553.5" font-size="15.0" text-anchor="middle" font-weight="normal" font-style="normal" >1050</text>
<line x1="692.15" y1="535" x2="692.15" y2="539.8" stroke="#0a0a0a" stroke-width="1.1"/>
<text x="692.15" y="553.5" font-size="15.0" text-anchor="middle" font-weight="normal" font-style="normal" >1100</text>
<line x1="425.8" y1="535" x2="425.8" y2="538.1" stroke="#0a0a0a" stroke-width="1.1"/>
<line x1="501.9" y1="535" x2="501.9" y2="538.1" stroke="#0a0a0a" stroke-width="1.1"/>
<line x1="578" y1="535" x2="578" y2="538.1" stroke="#0a0a0a" stroke-width="1.1"/>
<line x1="654.1" y1="535" x2="654.1" y2="538.1" stroke="#0a0a0a" stroke-width="1.1"/>
<line x1="730.2" y1="535" x2="730.2" y2="538.1" stroke="#0a0a0a" stroke-width="1.1"/>
<line x1="421" y1="524" x2="425.8" y2="524" stroke="#0a0a0a" stroke-width="1.1"/>
<text x="419.5" y="527.9" font-size="15.0" text-anchor="end" font-weight="normal" font-style="normal" >0.00</text>
<line x1="421" y1="481.54" x2="425.8" y2="481.54" stroke="#0a0a0a" stroke-width="1.1"/>
<text x="419.5" y="485.44" font-size="15.0" text-anchor="end" font-weight="normal" font-style="normal" >0.02</text>
<line x1="421" y1="439.08" x2="425.8" y2="439.08" stroke="#0a0a0a" stroke-width="1.1"/>
<text x="419.5" y="442.98" font-size="15.0" text-anchor="end" font-weight="normal" font-style="normal" >0.04</text>
<line x1="421" y1="396.62" x2="425.8" y2="396.62" stroke="#0a0a0a" stroke-width="1.1"/>
<text x="419.5" y="400.52" font-size="15.0" text-anchor="end" font-weight="normal" font-style="normal" >0.06</text>
<line x1="421" y1="354.16" x2="425.8" y2="354.16" stroke="#0a0a0a" stroke-width="1.1"/>
<text x="419.5" y="358.06" font-size="15.0" text-anchor="end" font-weight="normal" font-style="normal" >0.08</text>
<line x1="421" y1="311.7" x2="425.8" y2="311.7" stroke="#0a0a0a" stroke-width="1.1"/>
<text x="419.5" y="315.6" font-size="15.0" text-anchor="end" font-weight="normal" font-style="normal" >0.10</text>
<line x1="423.4" y1="502.77" x2="425.8" y2="502.77" stroke="#0a0a0a" stroke-width="1.1"/>
<line x1="423.4" y1="460.31" x2="425.8" y2="460.31" stroke="#0a0a0a" stroke-width="1.1"/>
<line x1="423.4" y1="417.85" x2="425.8" y2="417.85" stroke="#0a0a0a" stroke-width="1.1"/>
<line x1="423.4" y1="375.39" x2="425.8" y2="375.39" stroke="#0a0a0a" stroke-width="1.1"/>
<line x1="423.4" y1="332.93" x2="425.8" y2="332.93" stroke="#0a0a0a" stroke-width="1.1"/>
</g>
<g id="panel-e">
<clipPath id="clip-e"><rect x="59" y="571.3" width="304.7" height="243.8"/></clipPath>
<path clip-path="url(#clip-e)" d="M59.00,811.03 L59.50,811.08 L60.00,811.02 L60.50,810.69 L61.00,810.77 L61.50,810.78 L62.00,810.64 L62.50,810.13 L63.00,810.10 L63.50,809.89 L64.00,810.16 L64.50,809.97 L65.00,809.86 L65.50,809.52 L66.00,809.36 L66.50,809.42 L67.00,809.30 L67.50,809.04 L68.00,809.07 L68.50,809.02 L69.00,808.84 L69.50,808.54 L70.00,808.27 L70.50,808.42 L71.00,808.36 L71.50,808.18 L72.00,808.04 L72.50,807.88 L73.00,807.96 L73.50,807.74 L74.00,807.64 L74.50,807.36 L75.00,807.25 L75.50,807.18 L76.00,806.82 L76.50,806.56 L77.00,806.43 L77.50,806.37 L78.00,805.96 L78.50,805.83 L79.00,805.35 L79.50,805.03 L80.00,804.60 L80.50,804.39 L81.00,804.30 L81.50,803.80 L82.00,803.40 L82.50,802.91 L83.00,802.31 L83.50,801.71 L84.00,801.10 L84.50,800.46 L85.00,799.73 L85.50,798.97 L86.00,798.10 L86.50,797.09 L87.00,796.03 L87.50,794.81 L88.00,793.55 L88.50,792.05 L89.00,790.56 L89.50,788.99 L90.00,787.27 L90.50,785.53 L91.00,783.80 L91.50,781.94 L92.00,779.91 L92.50,777.91 L93.00,776.04 L93.50,774.51 L94.00,773.59 L94.50,772.71 L95.00,772.15 L95.50,771.74 L96.00,771.45 L96.50,771.14 L97.00,770.93 L97.50,770.68 L98.00,770.38 L98.50,770.73 L99.00,770.80 L99.50,771.12 L100.00,771.32 L100.50,771.79 L101.00,772.16 L101.50,772.63 L102.00,772.90 L102.50,773.47 L103.00,773.89 L103.50,774.22 L104.00,774.77 L104.50,775.37 L105.00,776.27 L105.50,777.43 L106.00,778.99 L106.50,780.53 L107.00,781.95 L107.50,783.15 L108.00,784.23 L108.50,785.30 L109.00,786.19 L109.50,787.13 L110.00,787.67 L110.50,788.12 L111.00,788.06 L111.50,788.17 L112.00,788.46 L112.50,788.16 L113.00,788.00 L113.50,787.91 L114.00,787.48 L114.50,787.50 L115.00,787.12 L115.50,786.87 L116.00,786.43 L116.50,786.25 L117.00,785.79 L117.50,785.61 L118.00,785.24 L118.50,784.77 L119.00,784.24 L119.50,783.68 L120.00,782.82 L120.50,782.31 L121.00,781.42 L121.50,780.55 L122.00,779.62 L122.50,778.66 L123.00,777.64 L123.50,776.52 L124.00,775.45 L124.50,774.45 L125.00,773.82 L125.50,773.73 L126.00,773.21 L126.50,773.51 L127.00,773.13 L127.50,772.89 L128.00,772.98 L128.50,772.81 L129.00,772.15 L129.50,772.23 L130.00,771.71 L130.50,771.60 L131.00,771.06 L131.50,770.60 L132.00,769.94 L132.50,768.75 L133.00,767.31 L133.50,765.70 L134.00,763.77 L134.50,760.89 L135.00,756.40 L135.50,750.73 L136.00,744.90 L136.50,739.16 L137.00,733.50 L137.50,727.96 L138.00,723.23 L138.50,721.05 L139.00,719.94 L139.50,719.33 L140.00,720.17 L140.50,721.79 L141.00,724.20 L141.50,727.54 L142.00,731.41 L142.50,734.85 L143.00,737.36 L143.50,739.41 L144.00,740.82 L144.50,741.48 L145.00,741.88 L145.50,741.84 L146.00,741.72 L146.50,741.53 L147.00,741.26 L147.50,740.69 L148.00,740.27 L148.50,740.18 L149.00,739.63 L149.50,739.71 L150.00,739.51 L150.50,739.56 L151.00,739.65 L151.50,739.46 L152.00,739.45 L152.50,739.18 L153.00,739.21 L153.50,739.41 L154.00,739.55 L154.50,739.55 L155.00,739.72 L155.50,739.46 L156.00,739.50 L156.50,739.68 L157.00,739.63 L157.50,739.75 L158.00,739.78 L158.50,740.25 L159.00,740.18 L159.50,740.60 L160.00,740.56 L160.50,741.11 L161.00,741.02 L161.50,741.45 L162.00,741.26 L162.50,741.54 L163.00,741.86 L163.50,741.59 L164.00,741.70 L164.50,741.53 L165.00,741.14 L165.50,741.33 L166.00,741.15 L166.50,740.73 L167.00,740.71 L167.50,740.30 L168.00,740.03 L168.50,739.93 L169.00,739.61 L169.50,739.81 L170.00,739.10 L170.50,739.22 L171.00,739.07 L171.50,738.48 L172.00,738.34 L172.50,738.49 L173.00,738.19 L173.50,738.17 L174.00,738.15 L174.50,737.83 L175.00,737.76 L175.50,737.77 L176.00,738.47 L176.50,738.79 L177.00,739.40 L177.50,739.91 L178.00,740.29 L178.50,741.13 L179.00,741.81 L179.50,742.59 L180.00,743.26 L180.50,744.04 L181.00,744.65 L181.50,745.08 L182.00,745.15 L182.50,745.36 L183.00,745.13 L183.50,744.71 L184.00,743.98 L184.50,743.19 L185.00,742.12 L185.50,740.89 L186.00,739.64 L186.50,738.12 L187.00,736.34 L187.50,734.25 L188.00,731.85 L188.50,729.11 L189.00,726.03 L189.50,722.60 L190.00,718.93 L190.50,715.16 L191.00,711.34 L191.50,707.51 L192.00,703.56 L192.50,699.01 L193.00,693.34 L193.50,686.89 L194.00,680.20 L194.50,673.63 L195.00,667.02 L195.50,660.18 L196.00,652.91 L196.50,645.39 L197.00,637.84 L197.50,630.30 L198.00,622.80 L198.50,615.35 L199.00,608.41 L199.50,605.58 L200.00,605.47 L200.50,607.15 L201.00,611.17 L201.50,616.44 L202.00,621.76 L202.50,626.19 L203.00,630.13 L203.50,634.00 L204.00,637.80 L204.50,641.51 L205.00,645.10 L205.50,648.60 L206.00,652.01 L206.50,655.35 L207.00,658.37 L207.50,660.74 L208.00,662.61 L208.50,663.98 L209.00,664.13 L209.50,663.85 L210.00,662.58 L210.50,660.02 L211.00,656.06 L211.50,651.46 L212.00,646.40 L212.50,640.88 L213.00,635.17 L213.50,629.91 L214.00,625.78 L214.50,622.82 L215.00,622.57 L215.50,625.26 L216.00,628.74 L216.50,632.83 L217.00,637.34 L217.50,641.51 L218.00,644.71 L218.50,647.00 L219.00,648.52 L219.50,648.97 L220.00,648.41 L220.50,647.08 L221.00,645.22 L221.50,642.73 L222.00,639.77 L222.50,637.50 L223.00,636.16 L223.50,635.66 L224.00,636.45 L224.50,637.93 L225.00,640.05 L225.50,642.47 L226.00,644.79 L226.50,646.77 L227.00,648.60 L227.50,650.33 L228.00,651.76 L228.50,652.90 L229.00,653.82 L229.50,654.38 L230.00,654.95 L230.50,655.42 L231.00,655.78 L231.50,655.73 L232.00,655.64 L232.50,655.35 L233.00,654.66 L233.50,653.62 L234.00,652.26 L234.50,650.61 L235.00,649.07 L235.50,647.86 L236.00,646.93 L236.50,646.24 L237.00,646.91 L237.50,648.80 L238.00,651.77 L238.50,655.98 L239.00,661.75 L239.50,667.92 L240.00,674.15 L240.50,680.48 L241.00,686.88 L241.50,693.10 L242.00,698.08 L242.50,703.29 L243.00,708.83 L243.50,713.05 L244.00,716.08 L244.50,718.44 L245.00,720.59 L245.50,722.73 L246.00,724.79 L246.50,726.68 L247.00,728.41 L247.50,729.84 L248.00,731.34 L248.50,732.67 L249.00,734.05 L249.50,735.36 L250.00,736.70 L250.50,737.98 L251.00,739.34 L251.50,740.57 L252.00,741.85 L252.50,743.02 L253.00,744.19 L253.50,745.36 L254.00,746.27 L254.50,747.09 L255.00,747.97 L255.50,748.53 L256.00,749.16 L256.50,749.79 L257.00,750.08 L257.50,750.67 L258.00,750.90 L258.50,751.49 L259.00,751.78 L259.50,751.75 L260.00,751.90 L260.50,751.79 L261.00,751.83 L261.50,751.81 L262.00,751.27 L262.50,751.40 L263.00,750.90 L263.50,750.76 L264.00,750.45 L264.50,750.85 L265.00,750.44 L265.50,750.35 L266.00,750.10 L266.50,750.25 L267.00,749.70 L267.50,749.94 L268.00,750.23 L268.50,749.84 L269.00,749.93 L269.50,750.14 L270.00,750.13 L270.50,750.49 L271.00,750.91 L271.50,751.19 L272.00,751.62 L272.50,752.00 L273.00,752.52 L273.50,752.97 L274.00,753.57 L274.50,753.99 L275.00,754.37 L275.50,754.62 L276.00,755.37 L276.50,755.81 L277.00,756.06 L277.50,756.36 L278.00,756.86 L278.50,757.47 L279.00,757.64 L279.50,758.08 L280.00,758.52 L280.50,758.97 L281.00,759.06 L281.50,759.17 L282.00,759.11 L282.50,759.29 L283.00,758.99 L283.50,758.58 L284.00,758.13 L284.50,757.90 L285.00,757.74 L285.50,757.24 L286.00,757.04 L286.50,756.60 L287.00,756.22 L287.50,755.92 L288.00,755.61 L288.50,755.23 L289.00,755.23 L289.50,755.66 L290.00,755.30 L290.50,755.65 L291.00,756.12 L291.50,756.27 L292.00,756.52 L292.50,756.81 L293.00,757.38 L293.50,757.81 L294.00,758.24 L294.50,758.53 L295.00,759.07 L295.50,759.30 L296.00,759.85 L296.50,760.17 L297.00,760.64 L297.50,761.01 L298.00,761.31 L298.50,761.23 L299.00,761.71 L299.50,761.60 L300.00,761.64 L300.50,761.79 L301.00,761.50 L301.50,761.36 L302.00,760.78 L302.50,759.93 L303.00,759.04 L303.50,758.06 L304.00,757.20 L304.50,756.32 L305.00,755.65 L305.50,754.88 L306.00,754.24 L306.50,753.90 L307.00,754.00 L307.50,754.37 L308.00,755.38 L308.50,756.78 L309.00,758.48 L309.50,760.41 L310.00,762.59 L310.50,764.84 L311.00,766.95 L311.50,768.78 L312.00,770.48 L312.50,772.07 L313.00,773.49 L313.50,774.70 L314.00,775.71 L314.50,776.66 L315.00,777.57 L315.50,778.48 L316.00,779.29 L316.50,780.08 L317.00,780.81 L317.50,781.45 L318.00,782.10 L318.50,782.88 L319.00,783.55 L319.50,784.19 L320.00,784.87 L320.50,785.75 L321.00,786.31 L321.50,787.11 L322.00,787.94 L322.50,788.68 L323.00,789.56 L323.50,790.47 L324.00,791.24 L324.50,792.02 L325.00,792.79 L325.50,793.50 L326.00,794.26 L326.50,794.88 L327.00,795.51 L327.50,796.18 L328.00,796.85 L328.50,797.38 L329.00,797.96 L329.50,798.24 L330.00,799.00 L330.50,799.54 L331.00,799.79 L331.50,799.88 L332.00,800.02 L332.50,800.33 L333.00,800.27 L333.50,800.62 L334.00,800.53 L334.50,800.84 L335.00,800.98 L335.50,800.57 L336.00,801.01 L336.50,800.97 L337.00,801.00 L337.50,801.25 L338.00,801.45 L338.50,801.76 L339.00,801.55 L339.50,802.06 L340.00,802.36 L340.50,802.34 L341.00,802.53 L341.50,802.66 L342.00,802.75 L342.50,803.25 L343.00,803.58 L343.50,804.00 L344.00,804.59 L344.50,804.82 L345.00,805.20 L345.50,805.72 L346.00,805.77 L346.50,806.11 L347.00,806.48 L347.50,806.71 L348.00,807.15 L348.50,807.28 L349.00,807.79 L349.50,808.01 L350.00,808.15 L350.50,808.23 L351.00,808.58 L351.50,808.81 L352.00,808.75 L352.50,809.14 L353.00,809.37 L353.50,809.49 L354.00,809.85 L354.50,809.96 L355.00,809.83 L355.50,810.11 L356.00,810.11 L356.50,810.44 L357.00,810.35 L357.50,810.72 L358.00,810.74 L358.50,810.91 L359.00,810.82 L359.50,810.70 L360.00,811.23 L360.50,810.99 L361.00,811.26 L361.50,811.14 L362.00,811.20 L362.50,811.38 L363.00,811.16 L363.50,811.31" fill="none" stroke="#0a0a0a" stroke-width="1.3" stroke-linejoin="round"/>
<rect x="59" y="571.3" width="304.7" height="243.8" fill="none" stroke="#0a0a0a" stroke-width="1.3"/>
<line x1="80.67" y1="815.1" x2="80.67" y2="819.9" stroke="#0a0a0a" stroke-width="1.1"/>
<text x="80.67" y="833.6" font-size="15.0" text-anchor="middle" font-weight="normal" font-style="normal" >1400</text>
<line x1="124.89" y1="815.1" x2="124.89" y2="819.9" stroke="#0a0a0a" stroke-width="1.1"/>
<text x="124.89" y="833.6" font-size="15.0" text-anchor="middle" font-weight="normal" font-style="normal" >1450</text>
<line x1="169.12" y1="815.1" x2="169.12" y2="819.9" stroke="#0a0a0a" stroke-width="1.1"/>
<text x="169.12" y="833.6" font-size="15.0" text-anchor="middle" font-weight="normal" font-style="normal" >1500</text>
<line x1="213.34" y1="815.1" x2="213.34" y2="819.9" stroke="#0a0a0a" stroke-width="1.1"/>
<text x="213.34" y="833.6" font-size="15.0" text-anchor="middle" font-weight="normal" font-style="normal" >1550</text>
<line x1="257.56" y1="815.1" x2="257.56" y2="819.9" stroke="#0a0a0a" stroke-width="1.1"/>
<text x="257.56" y="833.6" font-size="15.0" text-anchor="middle" font-weight="normal" font-style="normal" >1600</text>
<line x1="301.79" y1="815.1" x2="301.79" y2="819.9" stroke="#0a0a0a" stroke-width="1.1"/>
<text x="301.79" y="833.6" font-size="15.0" text-anchor="middle" font-weight="normal" font-style="normal" >1650</text>
<line x1="346.01" y1="815.1" x2="346.01" y2="819.9" stroke="#0a0a0a" stroke-width="1.1"/>
<text x="346.01" y="833.6" font-size="15.0" text-anchor="middle" font-weight="normal" font-style="normal" >1700</text>
<line x1="58.56" y1="815.1" x2="58.56" y2="818.2" stroke="#0a0a0a" stroke-width="1.1"/>
<line x1="102.78" y1="815.1" x2="102.78" y2="818.2" stroke="#0a0a0a" stroke-width="1.1"/>
<line x1="147" y1="815.1" x2="147" y2="818.2" stroke="#0a0a0a" stroke-width="1.1"/>
<line x1="191.23" y1="815.1" x2="191.23" y2="818.2" stroke="#0a0a0a" stroke-width="1.1"/>
<line x1="235.45" y1="815.1" x2="235.45" y2="818.2" stroke="#0a0a0a" stroke-width="1.1"/>
<line x1="279.68" y1="815.1" x2="279.68" y2="818.2" stroke="#0a0a0a" stroke-width="1.1"/>
<line x1="323.9" y1="815.1" x2="323.9" y2="818.2" stroke="#0a0a0a" stroke-width="1.1"/>
<line x1="54.2" y1="811.6" x2="59" y2="811.6" stroke="#0a0a0a" stroke-width="1.1"/>
<text x="52.7" y="815.5" font-size="15.0" text-anchor="end" font-weight="normal" font-style="normal" >0.0</text>
<line x1="54.2" y1="767.9" x2="59" y2="767.9" stroke="#0a0a0a" stroke-width="1.1"/>
<text x="52.7" y="771.8" font-size="15.0" text-anchor="end" font-weight="normal" font-style="normal" >0.5</text>
<line x1="54.2" y1="724.2" x2="59" y2="724.2" stroke="#0a0a0a" stroke-width="1.1"/>
<text x="52.7" y="728.1" font-size="15.0" text-anchor="end" font-weight="normal" font-style="normal" >1.0</text>
<line x1="54.2" y1="680.5" x2="59" y2="680.5" stroke="#0a0a0a" stroke-width="1.1"/>
<text x="52.7" y="684.4" font-size="15.0" text-anchor="end" font-weight="normal" font-style="normal" >1.5</text>
<line x1="54.2" y1="636.8" x2="59" y2="636.8" stroke="#0a0a0a" stroke-width="1.1"/>
<text x="52.7" y="640.7" font-size="15.0" text-anchor="end" font-weight="normal" font-style="normal" >2.0</text>
<line x1="54.2" y1="593.1" x2="59" y2="593.1" stroke="#0a0a0a" stroke-width="1.1"/>
<text x="52.7" y="597" font-size="15.0" text-anchor="end" font-weight="normal" font-style="normal" >2.5</text>
<line x1="56.6" y1="789.75" x2="59" y2="789.75" stroke="#0a0a0a" stroke-width="1.1"/>
<line x1="56.6" y1="746.05" x2="59" y2="746.05" stroke="#0a0a0a" stroke-width="1.1"/>
<line x1="56.6" y1="702.35" x2="59" y2="702.35" stroke="#0a0a0a" stroke-width="1.1"/>
<line x1="56.6" y1="658.65" x2="59" y2="658.65" stroke="#0a0a0a" stroke-width="1.1"/>
<line x1="56.6" y1="614.95" x2="59" y2="614.95" stroke="#0a0a0a" stroke-width="1.1"/>
<line x1="56.6" y1="571.25" x2="59" y2="571.25" stroke="#0a0a0a" stroke-width="1.1"/>
</g>
<g id="panel-f">
<clipPath id="clip-f"><rect x="426" y="572.3" width="305.3" height="244.2"/></clipPath>
<path clip-path="url(#clip-f)" d="M426.00,812.03 L426.25,812.72 L426.50,812.31 L426.75,812.29 L427.00,812.27 L427.25,812.31 L427.50,812.66 L427.75,811.50 L428.00,812.02 L428.25,811.71 L428.50,812.22 L428.75,811.66 L429.00,811.85 L429.25,811.51 L429.50,811.76 L429.75,811.79 L430.00,811.28 L430.25,811.33 L430.50,810.80 L430.75,811.24 L431.00,811.32 L431.25,810.80 L431.50,811.23 L431.75,810.17 L432.00,810.14 L432.25,810.19 L432.50,810.38 L432.75,810.44 L433.00,810.31 L433.25,810.22 L433.50,810.36 L433.75,809.91 L434.00,809.57 L434.25,809.47 L434.50,810.36 L434.75,808.93 L435.00,809.46 L435.25,809.83 L435.50,809.43 L435.75,808.93 L436.00,809.05 L436.25,809.18 L436.50,809.16 L436.75,808.42 L437.00,808.78 L437.25,808.50 L437.50,808.62 L437.75,808.57 L438.00,807.94 L438.25,807.49 L438.50,807.88 L438.75,808.14 L439.00,807.69 L439.25,807.42 L439.50,807.90 L439.75,806.78 L440.00,807.19 L440.25,806.63 L440.50,806.66 L440.75,806.53 L441.00,806.78 L441.25,805.95 L441.50,805.91 L441.75,805.46 L442.00,805.86 L442.25,805.43 L442.50,805.49 L442.75,804.91 L443.00,804.91 L443.25,805.07 L443.50,804.55 L443.75,804.55 L444.00,804.31 L444.25,803.87 L444.50,803.35 L444.75,803.76 L445.00,803.32 L445.25,803.29 L445.50,802.32 L445.75,802.17 L446.00,801.81 L446.25,801.87 L446.50,802.07 L446.75,801.71 L447.00,801.31 L447.25,801.09 L447.50,800.98 L447.75,800.47 L448.00,800.35 L448.25,800.00 L448.50,799.19 L448.75,799.25 L449.00,799.27 L449.25,798.56 L449.50,798.25 L449.75,797.78 L450.00,797.42 L450.25,797.33 L450.50,796.66 L450.75,796.11 L451.00,795.29 L451.25,795.34 L451.50,794.65 L451.75,794.23 L452.00,794.27 L452.25,793.80 L452.50,792.87 L452.75,792.87 L453.00,792.28 L453.25,791.52 L453.50,791.19 L453.75,790.20 L454.00,789.64 L454.25,788.95 L454.50,788.33 L454.75,787.94 L455.00,786.91 L455.25,786.23 L455.50,785.55 L455.75,784.99 L456.00,784.16 L456.25,783.53 L456.50,782.46 L456.75,781.46 L457.00,780.58 L457.25,779.57 L457.50,778.27 L457.75,777.14 L458.00,775.93 L458.25,774.09 L458.50,772.50 L458.75,770.91 L459.00,768.83 L459.25,766.93 L459.50,765.01 L459.75,763.29 L460.00,761.29 L460.25,759.12 L460.50,757.03 L460.75,755.12 L461.00,753.09 L461.25,750.97 L461.50,749.63 L461.75,748.43 L462.00,747.54 L462.25,746.59 L462.50,745.80 L462.75,745.13 L463.00,744.28 L463.25,744.17 L463.50,743.90 L463.75,744.48 L464.00,744.77 L464.25,745.49 L464.50,746.09 L464.75,746.76 L465.00,747.69 L465.25,748.11 L465.50,748.80 L465.75,749.08 L466.00,749.81 L466.25,750.01 L466.50,750.70 L466.75,751.13 L467.00,751.74 L467.25,751.99 L467.50,752.07 L467.75,752.38 L468.00,752.02 L468.25,751.81 L468.50,751.49 L468.75,750.90 L469.00,750.40 L469.25,750.04 L469.50,749.44 L469.75,749.05 L470.00,748.57 L470.25,747.86 L470.50,746.94 L470.75,745.98 L471.00,745.21 L471.25,744.16 L471.50,743.15 L471.75,741.54 L472.00,739.94 L472.25,738.26 L472.50,736.18 L472.75,734.21 L473.00,732.41 L473.25,730.26 L473.50,727.88 L473.75,725.41 L474.00,722.69 L474.25,720.17 L474.50,717.27 L474.75,714.23 L475.00,710.37 L475.25,705.77 L475.50,700.06 L475.75,693.49 L476.00,686.84 L476.25,680.59 L476.50,674.60 L476.75,668.96 L477.00,663.18 L477.25,657.59 L477.50,652.11 L477.75,646.47 L478.00,640.77 L478.25,635.30 L478.50,629.63 L478.75,624.02 L479.00,618.75 L479.25,613.89 L479.50,609.57 L479.75,604.95 L480.00,601.58 L480.25,598.97 L480.50,596.89 L480.75,595.51 L481.00,594.66 L481.25,594.72 L481.50,595.26 L481.75,596.06 L482.00,597.76 L482.25,600.18 L482.50,602.97 L482.75,606.12 L483.00,609.50 L483.25,613.26 L483.50,617.06 L483.75,621.44 L484.00,625.73 L484.25,629.97 L484.50,634.70 L484.75,638.64 L485.00,642.85 L485.25,647.05 L485.50,650.79 L485.75,654.87 L486.00,658.62 L486.25,662.40 L486.50,666.06 L486.75,669.49 L487.00,672.73 L487.25,675.62 L487.50,678.43 L487.75,680.99 L488.00,683.42 L488.25,686.13 L488.50,688.41 L488.75,690.76 L489.00,693.26 L489.25,695.26 L489.50,697.10 L489.75,698.86 L490.00,700.16 L490.25,700.66 L490.50,701.25 L490.75,700.92 L491.00,701.00 L491.25,700.41 L491.50,700.11 L491.75,699.21 L492.00,698.09 L492.25,697.10 L492.50,695.74 L492.75,694.66 L493.00,693.50 L493.25,692.33 L493.50,691.02 L493.75,690.41 L494.00,689.88 L494.25,689.36 L494.50,689.28 L494.75,688.47 L495.00,689.11 L495.25,689.16 L495.50,689.83 L495.75,690.63 L496.00,691.69 L496.25,692.81 L496.50,694.28 L496.75,695.52 L497.00,696.93 L497.25,698.61 L497.50,699.92 L497.75,701.04 L498.00,702.42 L498.25,703.78 L498.50,705.19 L498.75,706.30 L499.00,707.32 L499.25,707.69 L499.50,708.45 L499.75,708.89 L500.00,709.05 L500.25,708.98 L500.50,708.48 L500.75,707.98 L501.00,706.65 L501.25,704.56 L501.50,702.34 L501.75,700.59 L502.00,698.13 L502.25,696.19 L502.50,694.12 L502.75,691.61 L503.00,689.59 L503.25,687.32 L503.50,685.24 L503.75,683.03 L504.00,681.14 L504.25,679.47 L504.50,678.50 L504.75,678.41 L505.00,678.06 L505.25,678.41 L505.50,679.47 L505.75,680.11 L506.00,681.63 L506.25,683.41 L506.50,685.03 L506.75,686.72 L507.00,689.01 L507.25,690.78 L507.50,692.92 L507.75,695.11 L508.00,697.23 L508.25,699.41 L508.50,701.69 L508.75,704.00 L509.00,705.71 L509.25,707.50 L509.50,708.88 L509.75,710.58 L510.00,711.80 L510.25,713.28 L510.50,714.25 L510.75,715.30 L511.00,716.20 L511.25,716.97 L511.50,717.62 L511.75,718.64 L512.00,718.97 L512.25,719.53 L512.50,720.13 L512.75,720.37 L513.00,720.82 L513.25,721.16 L513.50,720.91 L513.75,720.81 L514.00,720.65 L514.25,720.78 L514.50,719.85 L514.75,720.51 L515.00,720.18 L515.25,720.31 L515.50,720.86 L515.75,721.02 L516.00,721.54 L516.25,722.02 L516.50,721.96 L516.75,722.98 L517.00,724.08 L517.25,724.92 L517.50,726.09 L517.75,727.05 L518.00,728.03 L518.25,729.28 L518.50,730.72 L518.75,731.93 L519.00,732.84 L519.25,733.96 L519.50,735.08 L519.75,735.85 L520.00,737.08 L520.25,738.38 L520.50,739.48 L520.75,740.18 L521.00,741.44 L521.25,742.09 L521.50,743.01 L521.75,743.73 L522.00,745.07 L522.25,745.76 L522.50,746.99 L522.75,747.52 L523.00,748.29 L523.25,748.77 L523.50,750.00 L523.75,750.45 L524.00,751.19 L524.25,751.56 L524.50,752.71 L524.75,753.36 L525.00,753.74 L525.25,754.45 L525.50,755.09 L525.75,755.75 L526.00,756.16 L526.25,756.96 L526.50,757.15 L526.75,757.59 L527.00,758.10 L527.25,758.20 L527.50,758.97 L527.75,759.74 L528.00,760.03 L528.25,760.24 L528.50,760.86 L528.75,760.78 L529.00,761.49 L529.25,762.00 L529.50,762.38 L529.75,762.38 L530.00,763.05 L530.25,763.56 L530.50,763.27 L530.75,763.79 L531.00,763.41 L531.25,763.48 L531.50,764.34 L531.75,764.34 L532.00,764.51 L532.25,764.39 L532.50,764.57 L532.75,764.99 L533.00,765.35 L533.25,764.79 L533.50,764.36 L533.75,765.30 L534.00,765.06 L534.25,765.02 L534.50,764.76 L534.75,765.20 L535.00,764.40 L535.25,764.26 L535.50,763.44 L535.75,763.46 L536.00,763.14 L536.25,762.99 L536.50,762.77 L536.75,762.22 L537.00,762.42 L537.25,761.51 L537.50,761.30 L537.75,761.11 L538.00,760.46 L538.25,760.48 L538.50,760.14 L538.75,759.60 L539.00,759.68 L539.25,758.94 L539.50,758.59 L539.75,757.95 L540.00,757.40 L540.25,757.19 L540.50,756.84 L540.75,756.40 L541.00,756.23 L541.25,755.22 L541.50,755.08 L541.75,754.57 L542.00,754.87 L542.25,754.14 L542.50,753.86 L542.75,753.45 L543.00,753.72 L543.25,753.18 L543.50,753.20 L543.75,752.40 L544.00,753.27 L544.25,752.98 L544.50,753.01 L544.75,753.23 L545.00,752.82 L545.25,752.90 L545.50,753.25 L545.75,753.24 L546.00,753.12 L546.25,753.31 L546.50,753.25 L546.75,753.73 L547.00,753.91 L547.25,753.78 L547.50,754.45 L547.75,753.66 L548.00,754.19 L548.25,754.89 L548.50,754.52 L548.75,754.42 L549.00,755.39 L549.25,755.38 L549.50,755.15 L549.75,755.86 L550.00,755.61 L550.25,755.73 L550.50,756.24 L550.75,756.37 L551.00,756.42 L551.25,756.81 L551.50,756.86 L551.75,757.34 L552.00,757.53 L552.25,757.93 L552.50,757.83 L552.75,757.82 L553.00,758.03 L553.25,758.52 L553.50,759.18 L553.75,759.21 L554.00,759.04 L554.25,759.66 L554.50,759.33 L554.75,760.10 L555.00,759.95 L555.25,760.45 L555.50,760.63 L555.75,760.61 L556.00,760.97 L556.25,760.83 L556.50,761.29 L556.75,761.80 L557.00,762.77 L557.25,762.12 L557.50,762.17 L557.75,762.11 L558.00,762.84 L558.25,762.36 L558.50,762.79 L558.75,763.30 L559.00,763.11 L559.25,764.02 L559.50,764.12 L559.75,763.92 L560.00,764.15 L560.25,764.19 L560.50,764.40 L560.75,765.09 L561.00,765.38 L561.25,765.56 L561.50,765.79 L561.75,765.84 L562.00,766.33 L562.25,766.15 L562.50,766.78 L562.75,767.40 L563.00,767.64 L563.25,767.50 L563.50,767.82 L563.75,768.51 L564.00,768.91 L564.25,768.45 L564.50,769.02 L564.75,769.50 L565.00,770.06 L565.25,769.96 L565.50,770.64 L565.75,770.80 L566.00,771.75 L566.25,771.70 L566.50,771.94 L566.75,772.26 L567.00,772.94 L567.25,773.21 L567.50,773.17 L567.75,773.81 L568.00,773.77 L568.25,774.24 L568.50,774.43 L568.75,774.74 L569.00,775.21 L569.25,775.45 L569.50,776.14 L569.75,776.51 L570.00,776.56 L570.25,776.63 L570.50,777.42 L570.75,776.98 L571.00,777.28 L571.25,778.27 L571.50,778.53 L571.75,778.89 L572.00,778.83 L572.25,778.78 L572.50,779.23 L572.75,779.77 L573.00,779.57 L573.25,779.78 L573.50,779.74 L573.75,779.98 L574.00,780.81 L574.25,780.84 L574.50,780.44 L574.75,780.60 L575.00,780.92 L575.25,781.45 L575.50,780.98 L575.75,781.46 L576.00,780.86 L576.25,781.29 L576.50,782.02 L576.75,782.30 L577.00,781.59 L577.25,781.80 L577.50,782.47 L577.75,782.03 L578.00,781.98 L578.25,782.41 L578.50,782.26 L578.75,782.59 L579.00,782.42 L579.25,781.81 L579.50,781.92 L579.75,781.86 L580.00,781.26 L580.25,781.32 L580.50,781.97 L580.75,780.87 L581.00,781.73 L581.25,781.33 L581.50,781.03 L581.75,781.14 L582.00,780.97 L582.25,781.09 L582.50,780.34 L582.75,780.24 L583.00,780.05 L583.25,780.62 L583.50,780.10 L583.75,779.24 L584.00,779.25 L584.25,778.92 L584.50,778.97 L584.75,778.85 L585.00,779.41 L585.25,777.72 L585.50,778.60 L585.75,778.22 L586.00,777.62 L586.25,777.69 L586.50,777.41 L586.75,777.50 L587.00,777.78 L587.25,776.62 L587.50,777.74 L587.75,776.94 L588.00,777.71 L588.25,777.19 L588.50,777.54 L588.75,777.24 L589.00,777.51 L589.25,777.10 L589.50,776.79 L589.75,777.54 L590.00,777.67 L590.25,778.37 L590.50,776.86 L590.75,777.75 L591.00,778.42 L591.25,777.73 L591.50,778.33 L591.75,779.40 L592.00,779.37 L592.25,778.79 L592.50,779.86 L592.75,780.02 L593.00,780.13 L593.25,780.24 L593.50,780.43 L593.75,780.26 L594.00,780.61 L594.25,781.30 L594.50,781.27 L594.75,782.14 L595.00,781.44 L595.25,780.76 L595.50,781.77 L595.75,782.19 L596.00,782.39 L596.25,782.41 L596.50,782.16 L596.75,783.32 L597.00,782.49 L597.25,783.23 L597.50,782.88 L597.75,782.56 L598.00,783.88 L598.25,782.08 L598.50,782.95 L598.75,783.63 L599.00,783.30 L599.25,783.90 L599.50,783.52 L599.75,783.38 L600.00,784.73 L600.25,783.55 L600.50,783.59 L600.75,783.12 L601.00,783.29 L601.25,784.00 L601.50,783.93 L601.75,783.61 L602.00,783.21 L602.25,783.86 L602.50,782.59 L602.75,783.20 L603.00,783.17 L603.25,782.79 L603.50,783.21 L603.75,782.72 L604.00,782.56 L604.25,783.80 L604.50,783.18 L604.75,783.33 L605.00,782.67 L605.25,783.05 L605.50,782.87 L605.75,783.01 L606.00,783.52 L606.25,782.11 L606.50,782.27 L606.75,782.03 L607.00,780.16 L607.25,781.16 L607.50,781.80 L607.75,782.04 L608.00,781.32 L608.25,782.12 L608.50,782.11 L608.75,781.14 L609.00,782.01 L609.25,782.09 L609.50,781.33 L609.75,780.48 L610.00,781.68 L610.25,780.73 L610.50,780.53 L610.75,780.70 L611.00,780.27 L611.25,781.03 L611.50,780.79 L611.75,780.94 L612.00,780.51 L612.25,779.69 L612.50,779.95 L612.75,780.43 L613.00,779.65 L613.25,781.42 L613.50,779.60 L613.75,779.35 L614.00,780.27 L614.25,780.00 L614.50,779.52 L614.75,779.37 L615.00,779.72 L615.25,779.95 L615.50,779.90 L615.75,779.28 L616.00,779.73 L616.25,779.99 L616.50,779.98 L616.75,777.81 L617.00,779.13 L617.25,779.28 L617.50,779.66 L617.75,779.97 L618.00,780.47 L618.25,780.38 L618.50,780.03 L618.75,780.20 L619.00,781.27 L619.25,779.99 L619.50,780.60 L619.75,781.40 L620.00,780.78 L620.25,779.48 L620.50,780.96 L620.75,780.60 L621.00,780.83 L621.25,781.59 L621.50,781.33 L621.75,780.99 L622.00,781.74 L622.25,781.56 L622.50,781.44 L622.75,781.64 L623.00,781.69 L623.25,781.42 L623.50,781.43 L623.75,781.80 L624.00,781.30 L624.25,781.20 L624.50,782.80 L624.75,781.97 L625.00,782.17 L625.25,782.19 L625.50,782.36 L625.75,782.44 L626.00,782.55 L626.25,782.10 L626.50,783.23 L626.75,782.32 L627.00,783.45 L627.25,781.64 L627.50,782.21 L627.75,783.53 L628.00,782.82 L628.25,782.48 L628.50,783.14 L628.75,782.21 L629.00,782.91 L629.25,781.41 L629.50,782.52 L629.75,782.36 L630.00,783.09 L630.25,783.28 L630.50,782.14 L630.75,783.72 L631.00,782.27 L631.25,781.30 L631.50,781.08 L631.75,783.66 L632.00,782.62 L632.25,782.28 L632.50,782.27 L632.75,782.11 L633.00,783.75 L633.25,782.90 L633.50,784.18 L633.75,782.99 L634.00,781.71 L634.25,783.82 L634.50,783.14 L634.75,783.32 L635.00,784.56 L635.25,783.49 L635.50,784.49 L635.75,783.85 L636.00,783.47 L636.25,784.37 L636.50,783.75 L636.75,785.02 L637.00,784.94 L637.25,784.46 L637.50,784.90 L637.75,784.96 L638.00,784.50 L638.25,785.35 L638.50,784.69 L638.75,785.32 L639.00,784.35 L639.25,785.13 L639.50,785.41 L639.75,784.67 L640.00,784.99 L640.25,784.98 L640.50,785.90 L640.75,784.98 L641.00,785.84 L641.25,786.64 L641.50,785.91 L641.75,784.63 L642.00,785.88 L642.25,786.57 L642.50,785.72 L642.75,786.74 L643.00,786.46 L643.25,786.38 L643.50,785.96 L643.75,785.84 L644.00,786.08 L644.25,786.36 L644.50,786.73 L644.75,786.71 L645.00,786.25 L645.25,786.56 L645.50,786.83 L645.75,785.40 L646.00,786.03 L646.25,786.00 L646.50,786.42 L646.75,786.35 L647.00,786.33 L647.25,785.86 L647.50,786.94 L647.75,786.63 L648.00,785.20 L648.25,786.38 L648.50,785.53 L648.75,787.60 L649.00,786.01 L649.25,786.07 L649.50,786.46 L649.75,786.30 L650.00,786.47 L650.25,787.68 L650.50,786.85 L650.75,787.38 L651.00,787.69 L651.25,786.40 L651.50,788.32 L651.75,787.79 L652.00,788.11 L652.25,787.04 L652.50,788.30 L652.75,788.16 L653.00,787.63 L653.25,789.73 L653.50,788.62 L653.75,788.12 L654.00,788.51 L654.25,789.11 L654.50,789.33 L654.75,788.97 L655.00,789.50 L655.25,789.73 L655.50,787.68 L655.75,788.27 L656.00,787.93 L656.25,788.73 L656.50,789.77 L656.75,789.14 L657.00,787.81 L657.25,788.36 L657.50,789.35 L657.75,788.10 L658.00,788.39 L658.25,788.64 L658.50,786.96 L658.75,788.84 L659.00,788.41 L659.25,788.46 L659.50,787.24 L659.75,787.26 L660.00,787.23 L660.25,787.62 L660.50,787.31 L660.75,787.13 L661.00,787.88 L661.25,787.31 L661.50,785.88 L661.75,785.65 L662.00,786.72 L662.25,785.28 L662.50,785.95 L662.75,785.79 L663.00,784.30 L663.25,784.16 L663.50,784.07 L663.75,783.24 L664.00,782.89 L664.25,782.93 L664.50,783.36 L664.75,782.34 L665.00,782.20 L665.25,781.78 L665.50,780.98 L665.75,782.40 L666.00,779.86 L666.25,780.60 L666.50,781.06 L666.75,779.63 L667.00,780.58 L667.25,780.72 L667.50,779.18 L667.75,779.58 L668.00,778.52 L668.25,779.28 L668.50,778.79 L668.75,778.68 L669.00,779.35 L669.25,778.58 L669.50,779.16 L669.75,778.53 L670.00,776.98 L670.25,778.12 L670.50,778.27 L670.75,776.63 L671.00,778.94 L671.25,777.87 L671.50,778.12 L671.75,777.07 L672.00,777.91 L672.25,778.16 L672.50,777.75 L672.75,778.20 L673.00,776.91 L673.25,779.40 L673.50,778.26 L673.75,778.16 L674.00,779.26 L674.25,779.82 L674.50,780.96 L674.75,780.80 L675.00,781.86 L675.25,781.79 L675.50,783.77 L675.75,783.51 L676.00,784.68 L676.25,783.81 L676.50,785.10 L676.75,784.85 L677.00,786.08 L677.25,786.63 L677.50,786.06 L677.75,786.78 L678.00,787.26 L678.25,787.60 L678.50,788.47 L678.75,788.86 L679.00,789.13 L679.25,790.36 L679.50,791.08 L679.75,790.69 L680.00,791.55 L680.25,792.31 L680.50,792.69 L680.75,792.95 L681.00,794.16 L681.25,794.65 L681.50,795.02 L681.75,795.01 L682.00,796.58 L682.25,796.88 L682.50,796.16 L682.75,796.70 L683.00,797.81 L683.25,797.08 L683.50,798.12 L683.75,798.27 L684.00,798.17 L684.25,798.77 L684.50,798.28 L684.75,799.21 L685.00,798.60 L685.25,801.59 L685.50,801.39 L685.75,801.50 L686.00,801.17 L686.25,801.90 L686.50,802.35 L686.75,802.43 L687.00,802.61 L687.25,801.56 L687.50,802.74 L687.75,802.27 L688.00,802.01 L688.25,802.24 L688.50,803.60 L688.75,804.27 L689.00,802.64 L689.25,805.20 L689.50,805.18 L689.75,803.95 L690.00,804.07 L690.25,804.55 L690.50,805.55 L690.75,804.68 L691.00,804.29 L691.25,805.60 L691.50,803.88 L691.75,805.79 L692.00,806.77 L692.25,806.26 L692.50,806.81 L692.75,806.75 L693.00,807.10 L693.25,806.78 L693.50,806.13 L693.75,806.78 L694.00,807.05 L694.25,808.32 L694.50,808.77 L694.75,807.88 L695.00,807.00 L695.25,807.15 L695.50,807.74 L695.75,809.24 L696.00,808.44 L696.25,808.22 L696.50,807.72 L696.75,809.29 L697.00,808.88 L697.25,808.69 L697.50,808.93 L697.75,810.47 L698.00,808.91 L698.25,810.69 L698.50,810.39 L698.75,809.39 L699.00,810.25 L699.25,809.41 L699.50,808.83 L699.75,809.44 L700.00,808.91 L700.25,810.32 L700.50,809.91 L700.75,810.51 L701.00,810.82 L701.25,807.10 L701.50,810.45 L701.75,808.48 L702.00,810.43 L702.25,809.49 L702.50,810.49 L702.75,811.77 L703.00,808.85 L703.25,810.75 L703.50,810.54 L703.75,808.83 L704.00,811.36 L704.25,810.81 L704.50,810.33 L704.75,810.17 L705.00,814.09 L705.25,810.59 L705.50,809.25 L705.75,810.15 L706.00,810.75 L706.25,810.78 L706.50,811.12 L706.75,810.20 L707.00,811.82 L707.25,810.84 L707.50,809.99 L707.75,810.57 L708.00,811.04 L708.25,812.31 L708.50,811.98 L708.75,811.18 L709.00,811.57 L709.25,811.79 L709.50,813.68 L709.75,811.01 L710.00,812.14 L710.25,812.43 L710.50,810.75 L710.75,811.94 L711.00,811.94 L711.25,811.33 L711.50,812.41 L711.75,812.91 L712.00,813.04 L712.25,811.72 L712.50,812.13 L712.75,814.36 L713.00,810.86 L713.25,812.24 L713.50,812.95 L713.75,812.22 L714.00,812.76 L714.25,812.29 L714.50,812.90 L714.75,813.46 L715.00,811.95 L715.25,812.40 L715.50,812.16 L715.75,811.83 L716.00,812.24 L716.25,811.12 L716.50,813.05 L716.75,814.05 L717.00,814.07 L717.25,813.65 L717.50,811.38 L717.75,813.93 L718.00,811.66 L718.25,812.36 L718.50,814.32 L718.75,811.35 L719.00,813.32 L719.25,812.77 L719.50,812.34 L719.75,811.62 L720.00,812.96 L720.25,812.07 L720.50,813.63 L720.75,813.83 L721.00,811.18 L721.25,812.09 L721.50,812.30 L721.75,811.43 L722.00,811.51 L722.25,812.76 L722.50,812.47 L722.75,811.01 L723.00,812.16 L723.25,813.26 L723.50,811.51 L723.75,811.81 L724.00,814.39 L724.25,814.13 L724.50,811.14 L724.75,811.43 L725.00,813.21 L725.25,811.62 L725.50,812.59 L725.75,812.40 L726.00,813.45 L726.25,810.30 L726.50,810.65 L726.75,811.66 L727.00,813.97 L727.25,812.78 L727.50,811.20 L727.75,813.47 L728.00,813.70 L728.25,812.73 L728.50,812.66 L728.75,813.45 L729.00,814.25 L729.25,813.18 L729.50,813.58 L729.75,813.00 L730.00,812.67 L730.25,812.13 L730.50,813.34 L730.75,812.77 L731.00,812.84 L731.25,814.05" fill="none" stroke="#0a0a0a" stroke-width="1.85" stroke-linejoin="round"/>
<rect x="426" y="572.3" width="305.3" height="244.2" fill="none" stroke="#0a0a0a" stroke-width="1.3"/>
<line x1="450.4" y1="816.5" x2="450.4" y2="821.3" stroke="#0a0a0a" stroke-width="1.1"/>
<text x="450.4" y="835" font-size="15.0" text-anchor="middle" font-weight="normal" font-style="normal" >1900</text>
<line x1="499.21" y1="816.5" x2="499.21" y2="821.3" stroke="#0a0a0a" stroke-width="1.1"/>
<text x="499.21" y="835" font-size="15.0" text-anchor="middle" font-weight="normal" font-style="normal" >2000</text>
<line x1="548.02" y1="816.5" x2="548.02" y2="821.3" stroke="#0a0a0a" stroke-width="1.1"/>
<text x="548.02" y="835" font-size="15.0" text-anchor="middle" font-weight="normal" font-style="normal" >2100</text>
<line x1="596.83" y1="816.5" x2="596.83" y2="821.3" stroke="#0a0a0a" stroke-width="1.1"/>
<text x="596.83" y="835" font-size="15.0" text-anchor="middle" font-weight="normal" font-style="normal" >2200</text>
<line x1="645.64" y1="816.5" x2="645.64" y2="821.3" stroke="#0a0a0a" stroke-width="1.1"/>
<text x="645.64" y="835" font-size="15.0" text-anchor="middle" font-weight="normal" font-style="normal" >2300</text>
<line x1="694.45" y1="816.5" x2="694.45" y2="821.3" stroke="#0a0a0a" stroke-width="1.1"/>
<text x="694.45" y="835" font-size="15.0" text-anchor="middle" font-weight="normal" font-style="normal" >2400</text>
<line x1="426" y1="816.5" x2="426" y2="819.6" stroke="#0a0a0a" stroke-width="1.1"/>
<line x1="474.81" y1="816.5" x2="474.81" y2="819.6" stroke="#0a0a0a" stroke-width="1.1"/>
<line x1="523.62" y1="816.5" x2="523.62" y2="819.6" stroke="#0a0a0a" stroke-width="1.1"/>
<line x1="572.43" y1="816.5" x2="572.43" y2="819.6" stroke="#0a0a0a" stroke-width="1.1"/>
<line x1="621.24" y1="816.5" x2="621.24" y2="819.6" stroke="#0a0a0a" stroke-width="1.1"/>
<line x1="670.04" y1="816.5" x2="670.04" y2="819.6" stroke="#0a0a0a" stroke-width="1.1"/>
<line x1="718.85" y1="816.5" x2="718.85" y2="819.6" stroke="#0a0a0a" stroke-width="1.1"/>
<line x1="421.2" y1="812.6" x2="426" y2="812.6" stroke="#0a0a0a" stroke-width="1.1"/>
<text x="419.7" y="816.5" font-size="15.0" text-anchor="end" font-weight="normal" font-style="normal" >0.0</text>
<line x1="421.2" y1="732.5" x2="426" y2="732.5" stroke="#0a0a0a" stroke-width="1.1"/>
<text x="419.7" y="736.4" font-size="15.0" text-anchor="end" font-weight="normal" font-style="normal" >0.5</text>
<line x1="421.2" y1="652.4" x2="426" y2="652.4" stroke="#0a0a0a" stroke-width="1.1"/>
<text x="419.7" y="656.3" font-size="15.0" text-anchor="end" font-weight="normal" font-style="normal" >1.0</text>
<line x1="421.2" y1="572.3" x2="426" y2="572.3" stroke="#0a0a0a" stroke-width="1.1"/>
<text x="419.7" y="576.2" font-size="15.0" text-anchor="end" font-weight="normal" font-style="normal" >1.5</text>
<line x1="423.6" y1="772.55" x2="426" y2="772.55" stroke="#0a0a0a" stroke-width="1.1"/>
<line x1="423.6" y1="692.45" x2="426" y2="692.45" stroke="#0a0a0a" stroke-width="1.1"/>
<line x1="423.6" y1="612.35" x2="426" y2="612.35" stroke="#0a0a0a" stroke-width="1.1"/>
</g>
<text x="347" y="19.9" font-size="20" text-anchor="start" font-weight="bold" font-style="normal" >a</text>
<text x="713.6" y="21.6" font-size="20" text-anchor="start" font-weight="bold" font-style="normal" >b</text>
<text x="346.6" y="308.2" font-size="20" text-anchor="start" font-weight="bold" font-style="normal" >c</text>
<text x="712.6" y="311.8" font-size="20" text-anchor="start" font-weight="bold" font-style="normal" >d</text>
<text x="347.6" y="586.8" font-size="20" text-anchor="start" font-weight="bold" font-style="normal" >e</text>
<text x="718.8" y="592.2" font-size="20" text-anchor="start" font-weight="bold" font-style="normal" >f</text>
<path d="M88.9,39.6 V30.6 H310.3 V39.6" fill="none" stroke="#0a0a0a" stroke-width="1.15"/>
<path d="M462.6,81.8 V72.5 H560 V81.8" fill="none" stroke="#0a0a0a" stroke-width="1.15"/>
<path d="M576,158.4 V149.5 H666.8 V158.4" fill="none" stroke="#0a0a0a" stroke-width="1.15"/>
<path d="M669.8,55.4 V46.6 H719.2 V55.4" fill="none" stroke="#0a0a0a" stroke-width="1.15"/>
<path d="M92.6,337.8 V327.6 H309.8 V337.8" fill="none" stroke="#0a0a0a" stroke-width="1.15"/>
<path d="M502.7,334 V325.1 H663.5 V334" fill="none" stroke="#0a0a0a" stroke-width="1.15"/>
<path d="M76.1,724.2 V714.5 H185.2 V724.2" fill="none" stroke="#0a0a0a" stroke-width="1.15"/>
<path d="M189.5,609.1 V600.1 H346.4 V609.1" fill="none" stroke="#0a0a0a" stroke-width="1.15"/>
<path d="M440.8,598.2 V588.9 H530.3 V598.2" fill="none" stroke="#0a0a0a" stroke-width="1.15"/>
<path d="M533.6,752.5 V743.7 H701.7 V752.5" fill="none" stroke="#0a0a0a" stroke-width="1.15"/>
<text transform="translate(186.63,11.9) scale(0.88,1)" font-size="9.4" font-weight="bold" font-style="normal">3</text>
<text transform="translate(191.85,20.8) scale(0.95,1)" font-size="15.4" font-weight="bold" font-style="normal">H</text>
<text transform="translate(203.38,27) scale(0.88,1)" font-size="9.4" font-weight="bold" font-style="normal">4</text>
<text transform="translate(228.56,20.8) scale(0.95,1)" font-size="15.4" font-weight="bold" font-style="normal">5</text>
<text transform="translate(238.73,20.8) scale(0.95,1)" font-size="15.4" font-weight="bold" font-style="italic">d</text>
<text transform="translate(246.7,27) scale(0.88,1)" font-size="9.4" font-weight="bold" font-style="normal">1</text>
<line x1="208.9" y1="15.8" x2="220.3" y2="15.8" stroke="#0a0a0a" stroke-width="0.85"/>
<path d="M224.4,15.8 L218.8,14.1 L220.1,15.8 L218.8,17.5 Z" fill="#0a0a0a"/>
<text transform="translate(475.73,52.5) scale(0.88,1)" font-size="9.8" font-weight="bold" font-style="normal">3</text>
<text transform="translate(480.57,61.6) scale(0.95,1)" font-size="16.6" font-weight="bold" font-style="normal">H</text>
<text transform="translate(492.27,68.1) scale(0.88,1)" font-size="9.8" font-weight="bold" font-style="normal">4</text>
<text transform="translate(518.83,52.5) scale(0.88,1)" font-size="9.8" font-weight="bold" font-style="normal">3</text>
<text transform="translate(524.07,61.6) scale(0.95,1)" font-size="16.6" font-weight="bold" font-style="normal">P</text>
<text transform="translate(534.74,68.1) scale(0.88,1)" font-size="9.8" font-weight="bold" font-style="normal">2</text>
<line x1="500.1" y1="57.2" x2="515.3" y2="57.2" stroke="#0a0a0a" stroke-width="0.85"/>
<path d="M519.4,57.2 L513.8,55.5 L515.1,57.2 L513.8,58.9 Z" fill="#0a0a0a"/>
<text transform="translate(571.23,126.2) scale(0.88,1)" font-size="9.8" font-weight="bold" font-style="normal">3</text>
<text transform="translate(575.76,135.8) scale(0.95,1)" font-size="16.9" font-weight="bold" font-style="normal">H</text>
<text transform="translate(587.47,142.4) scale(0.88,1)" font-size="9.8" font-weight="bold" font-style="normal">4</text>
<text transform="translate(614.78,126.2) scale(0.88,1)" font-size="9.8" font-weight="bold" font-style="normal">1</text>
<text transform="translate(619.26,135.8) scale(0.95,1)" font-size="16.9" font-weight="bold" font-style="normal">I</text>
<text transform="translate(623.5,142.4) scale(0.88,1)" font-size="9.8" font-weight="bold" font-style="normal">6</text>
<text transform="translate(634.46,135.8) scale(0.95,1)" font-size="16.9" font-weight="bold" font-style="normal">+</text>
<text transform="translate(648.23,126.2) scale(0.88,1)" font-size="9.8" font-weight="bold" font-style="normal">3</text>
<text transform="translate(653.36,135.8) scale(0.95,1)" font-size="16.9" font-weight="bold" font-style="normal">P</text>
<text transform="translate(664.38,142.4) scale(0.88,1)" font-size="9.8" font-weight="bold" font-style="normal">1</text>
<line x1="593.7" y1="130.6" x2="610.8" y2="130.6" stroke="#0a0a0a" stroke-width="0.85"/>
<path d="M614.9,130.6 L609.3,128.9 L610.6,130.6 L609.3,132.3 Z" fill="#0a0a0a"/>
<text transform="translate(642.83,26.7) scale(0.88,1)" font-size="9.8" font-weight="bold" font-style="normal">3</text>
<text transform="translate(647.77,35.6) scale(0.95,1)" font-size="16.6" font-weight="bold" font-style="normal">H</text>
<text transform="translate(659.17,42.3) scale(0.88,1)" font-size="9.8" font-weight="bold" font-style="normal">4</text>
<text transform="translate(686.03,26.7) scale(0.88,1)" font-size="9.8" font-weight="bold" font-style="normal">3</text>
<text transform="translate(691.27,35.6) scale(0.95,1)" font-size="16.6" font-weight="bold" font-style="normal">P</text>
<text transform="translate(702,42.3) scale(0.88,1)" font-size="9.8" font-weight="bold" font-style="normal">0</text>
<line x1="666.1" y1="30.8" x2="681.8" y2="30.8" stroke="#0a0a0a" stroke-width="0.85"/>
<path d="M685.9,30.8 L680.3,29.1 L681.6,30.8 L680.3,32.5 Z" fill="#0a0a0a"/>
<text transform="translate(172.83,306.8) scale(0.88,1)" font-size="9.8" font-weight="bold" font-style="normal">3</text>
<text transform="translate(177.69,316.1) scale(0.95,1)" font-size="16.4" font-weight="bold" font-style="normal">H</text>
<text transform="translate(189.37,322.8) scale(0.88,1)" font-size="9.8" font-weight="bold" font-style="normal">4</text>
<text transform="translate(215.88,306.8) scale(0.88,1)" font-size="9.8" font-weight="bold" font-style="normal">1</text>
<text transform="translate(220.99,316.1) scale(0.95,1)" font-size="16.4" font-weight="bold" font-style="normal">D</text>
<text transform="translate(233.14,322.8) scale(0.88,1)" font-size="9.8" font-weight="bold" font-style="normal">2</text>
<line x1="195.4" y1="310.5" x2="210.7" y2="310.5" stroke="#0a0a0a" stroke-width="0.85"/>
<path d="M214.8,310.5 L209.2,308.8 L210.5,310.5 L209.2,312.2 Z" fill="#0a0a0a"/>
<text transform="translate(555.73,304.8) scale(0.88,1)" font-size="9.8" font-weight="bold" font-style="normal">3</text>
<text transform="translate(560.87,314) scale(0.95,1)" font-size="16.6" font-weight="bold" font-style="normal">H</text>
<text transform="translate(572.27,320.8) scale(0.88,1)" font-size="9.8" font-weight="bold" font-style="normal">4</text>
<text transform="translate(598.88,304.8) scale(0.88,1)" font-size="9.8" font-weight="bold" font-style="normal">1</text>
<text transform="translate(603.67,314) scale(0.95,1)" font-size="16.6" font-weight="bold" font-style="normal">G</text>
<text transform="translate(616.67,320.8) scale(0.88,1)" font-size="9.8" font-weight="bold" font-style="normal">4</text>
<line x1="578.8" y1="308.7" x2="592.9" y2="308.7" stroke="#0a0a0a" stroke-width="0.85"/>
<path d="M597,308.7 L591.4,307 L592.7,308.7 L591.4,310.4 Z" fill="#0a0a0a"/>
<text transform="translate(231.73,581) scale(0.88,1)" font-size="9.8" font-weight="bold" font-style="normal">3</text>
<text transform="translate(236.89,590.1) scale(0.95,1)" font-size="16.3" font-weight="bold" font-style="normal">H</text>
<text transform="translate(248.37,596.9) scale(0.88,1)" font-size="9.8" font-weight="bold" font-style="normal">4</text>
<text transform="translate(274.73,581) scale(0.88,1)" font-size="9.8" font-weight="bold" font-style="normal">3</text>
<text transform="translate(279.99,590.1) scale(0.95,1)" font-size="16.3" font-weight="bold" font-style="normal">F</text>
<text transform="translate(290.53,596.9) scale(0.88,1)" font-size="9.8" font-weight="bold" font-style="normal">3</text>
<line x1="255.3" y1="584.5" x2="270.5" y2="584.5" stroke="#0a0a0a" stroke-width="0.85"/>
<path d="M274.6,584.5 L269,582.8 L270.3,584.5 L269,586.2 Z" fill="#0a0a0a"/>
<text transform="translate(100.13,696.3) scale(0.88,1)" font-size="9.8" font-weight="bold" font-style="normal">3</text>
<text transform="translate(105.17,705.3) scale(0.95,1)" font-size="16.6" font-weight="bold" font-style="normal">H</text>
<text transform="translate(116.87,712) scale(0.88,1)" font-size="9.8" font-weight="bold" font-style="normal">4</text>
<text transform="translate(143.43,696.3) scale(0.88,1)" font-size="9.8" font-weight="bold" font-style="normal">3</text>
<text transform="translate(148.37,705.3) scale(0.95,1)" font-size="16.6" font-weight="bold" font-style="normal">F</text>
<text transform="translate(158.77,712) scale(0.88,1)" font-size="9.8" font-weight="bold" font-style="normal">4</text>
<line x1="123.2" y1="700.3" x2="138.1" y2="700.3" stroke="#0a0a0a" stroke-width="0.85"/>
<path d="M142.2,700.3 L136.6,698.6 L137.9,700.3 L136.6,702 Z" fill="#0a0a0a"/>
<text transform="translate(533.54,586.1) scale(0.88,1)" font-size="9.3" font-weight="bold" font-style="normal">3</text>
<text transform="translate(538.74,595.5) scale(0.95,1)" font-size="15.5" font-weight="bold" font-style="normal">H</text>
<text transform="translate(550.18,602) scale(0.88,1)" font-size="9.3" font-weight="bold" font-style="normal">4</text>
<text transform="translate(576.24,586.1) scale(0.88,1)" font-size="9.3" font-weight="bold" font-style="normal">3</text>
<text transform="translate(581.04,595.5) scale(0.95,1)" font-size="15.5" font-weight="bold" font-style="normal">F</text>
<text transform="translate(590.65,602) scale(0.88,1)" font-size="9.3" font-weight="bold" font-style="normal">2</text>
<line x1="557.4" y1="590.9" x2="572.3" y2="590.9" stroke="#0a0a0a" stroke-width="0.85"/>
<path d="M576.4,590.9 L570.8,589.2 L572.1,590.9 L570.8,592.6 Z" fill="#0a0a0a"/>
<text transform="translate(579.34,722.7) scale(0.88,1)" font-size="9.3" font-weight="bold" font-style="normal">3</text>
<text transform="translate(583.75,731.9) scale(0.95,1)" font-size="15.4" font-weight="bold" font-style="normal">H</text>
<text transform="translate(595.18,738.2) scale(0.88,1)" font-size="9.3" font-weight="bold" font-style="normal">4</text>
<text transform="translate(621.24,722.7) scale(0.88,1)" font-size="9.3" font-weight="bold" font-style="normal">3</text>
<text transform="translate(625.55,731.9) scale(0.95,1)" font-size="15.4" font-weight="bold" font-style="normal">H</text>
<text transform="translate(637.21,738.2) scale(0.88,1)" font-size="9.3" font-weight="bold" font-style="normal">6</text>
<line x1="601.2" y1="727.2" x2="616.5" y2="727.2" stroke="#0a0a0a" stroke-width="0.85"/>
<path d="M620.6,727.2 L615,725.5 L616.3,727.2 L615,728.9 Z" fill="#0a0a0a"/>
<text x="136.4" y="859.7" font-size="19.4" text-anchor="start" font-weight="normal" font-style="normal" textLength="143.5" lengthAdjust="spacingAndGlyphs">Wavelength [nm]</text>
<text x="508.7" y="858.8" font-size="19.4" text-anchor="start" font-weight="normal" font-style="normal" textLength="141.3" lengthAdjust="spacingAndGlyphs">Wavelength [nm]</text>
<g transform="translate(17.2,615.5) rotate(-90)">
<text transform="translate(-0.18,0) scale(0.8796,1)" font-size="16.5">σ</text>
<text transform="translate(9.89,4.2) scale(0.7868,1)" font-size="13">abs</text>
<text transform="translate(29.8,0) scale(1.0000,1)" font-size="20">,</text>
<text transform="translate(41.66,0) scale(0.9285,1)" font-size="20">Optical</text>
<text transform="translate(106.96,0) scale(0.9278,1)" font-size="20">absorption</text>
<text transform="translate(201.84,0) scale(0.9503,1)" font-size="20">cross</text>
<text transform="translate(254.03,0) scale(0.9318,1)" font-size="20">section</text>
<text transform="translate(319.44,0) scale(0.8988,1)" font-size="20">[10</text>
<text transform="translate(345.59,-7) scale(0.9922,1)" font-size="12.8">-20</text>
<text transform="translate(370.17,0) scale(1.0325,1)" font-size="20">cm</text>
<text transform="translate(396.37,-7) scale(0.9851,1)" font-size="12.8">2</text>
<text transform="translate(403.51,0) scale(0.9024,1)" font-size="20">]</text>
</g>
</svg>
</body>
</html>
